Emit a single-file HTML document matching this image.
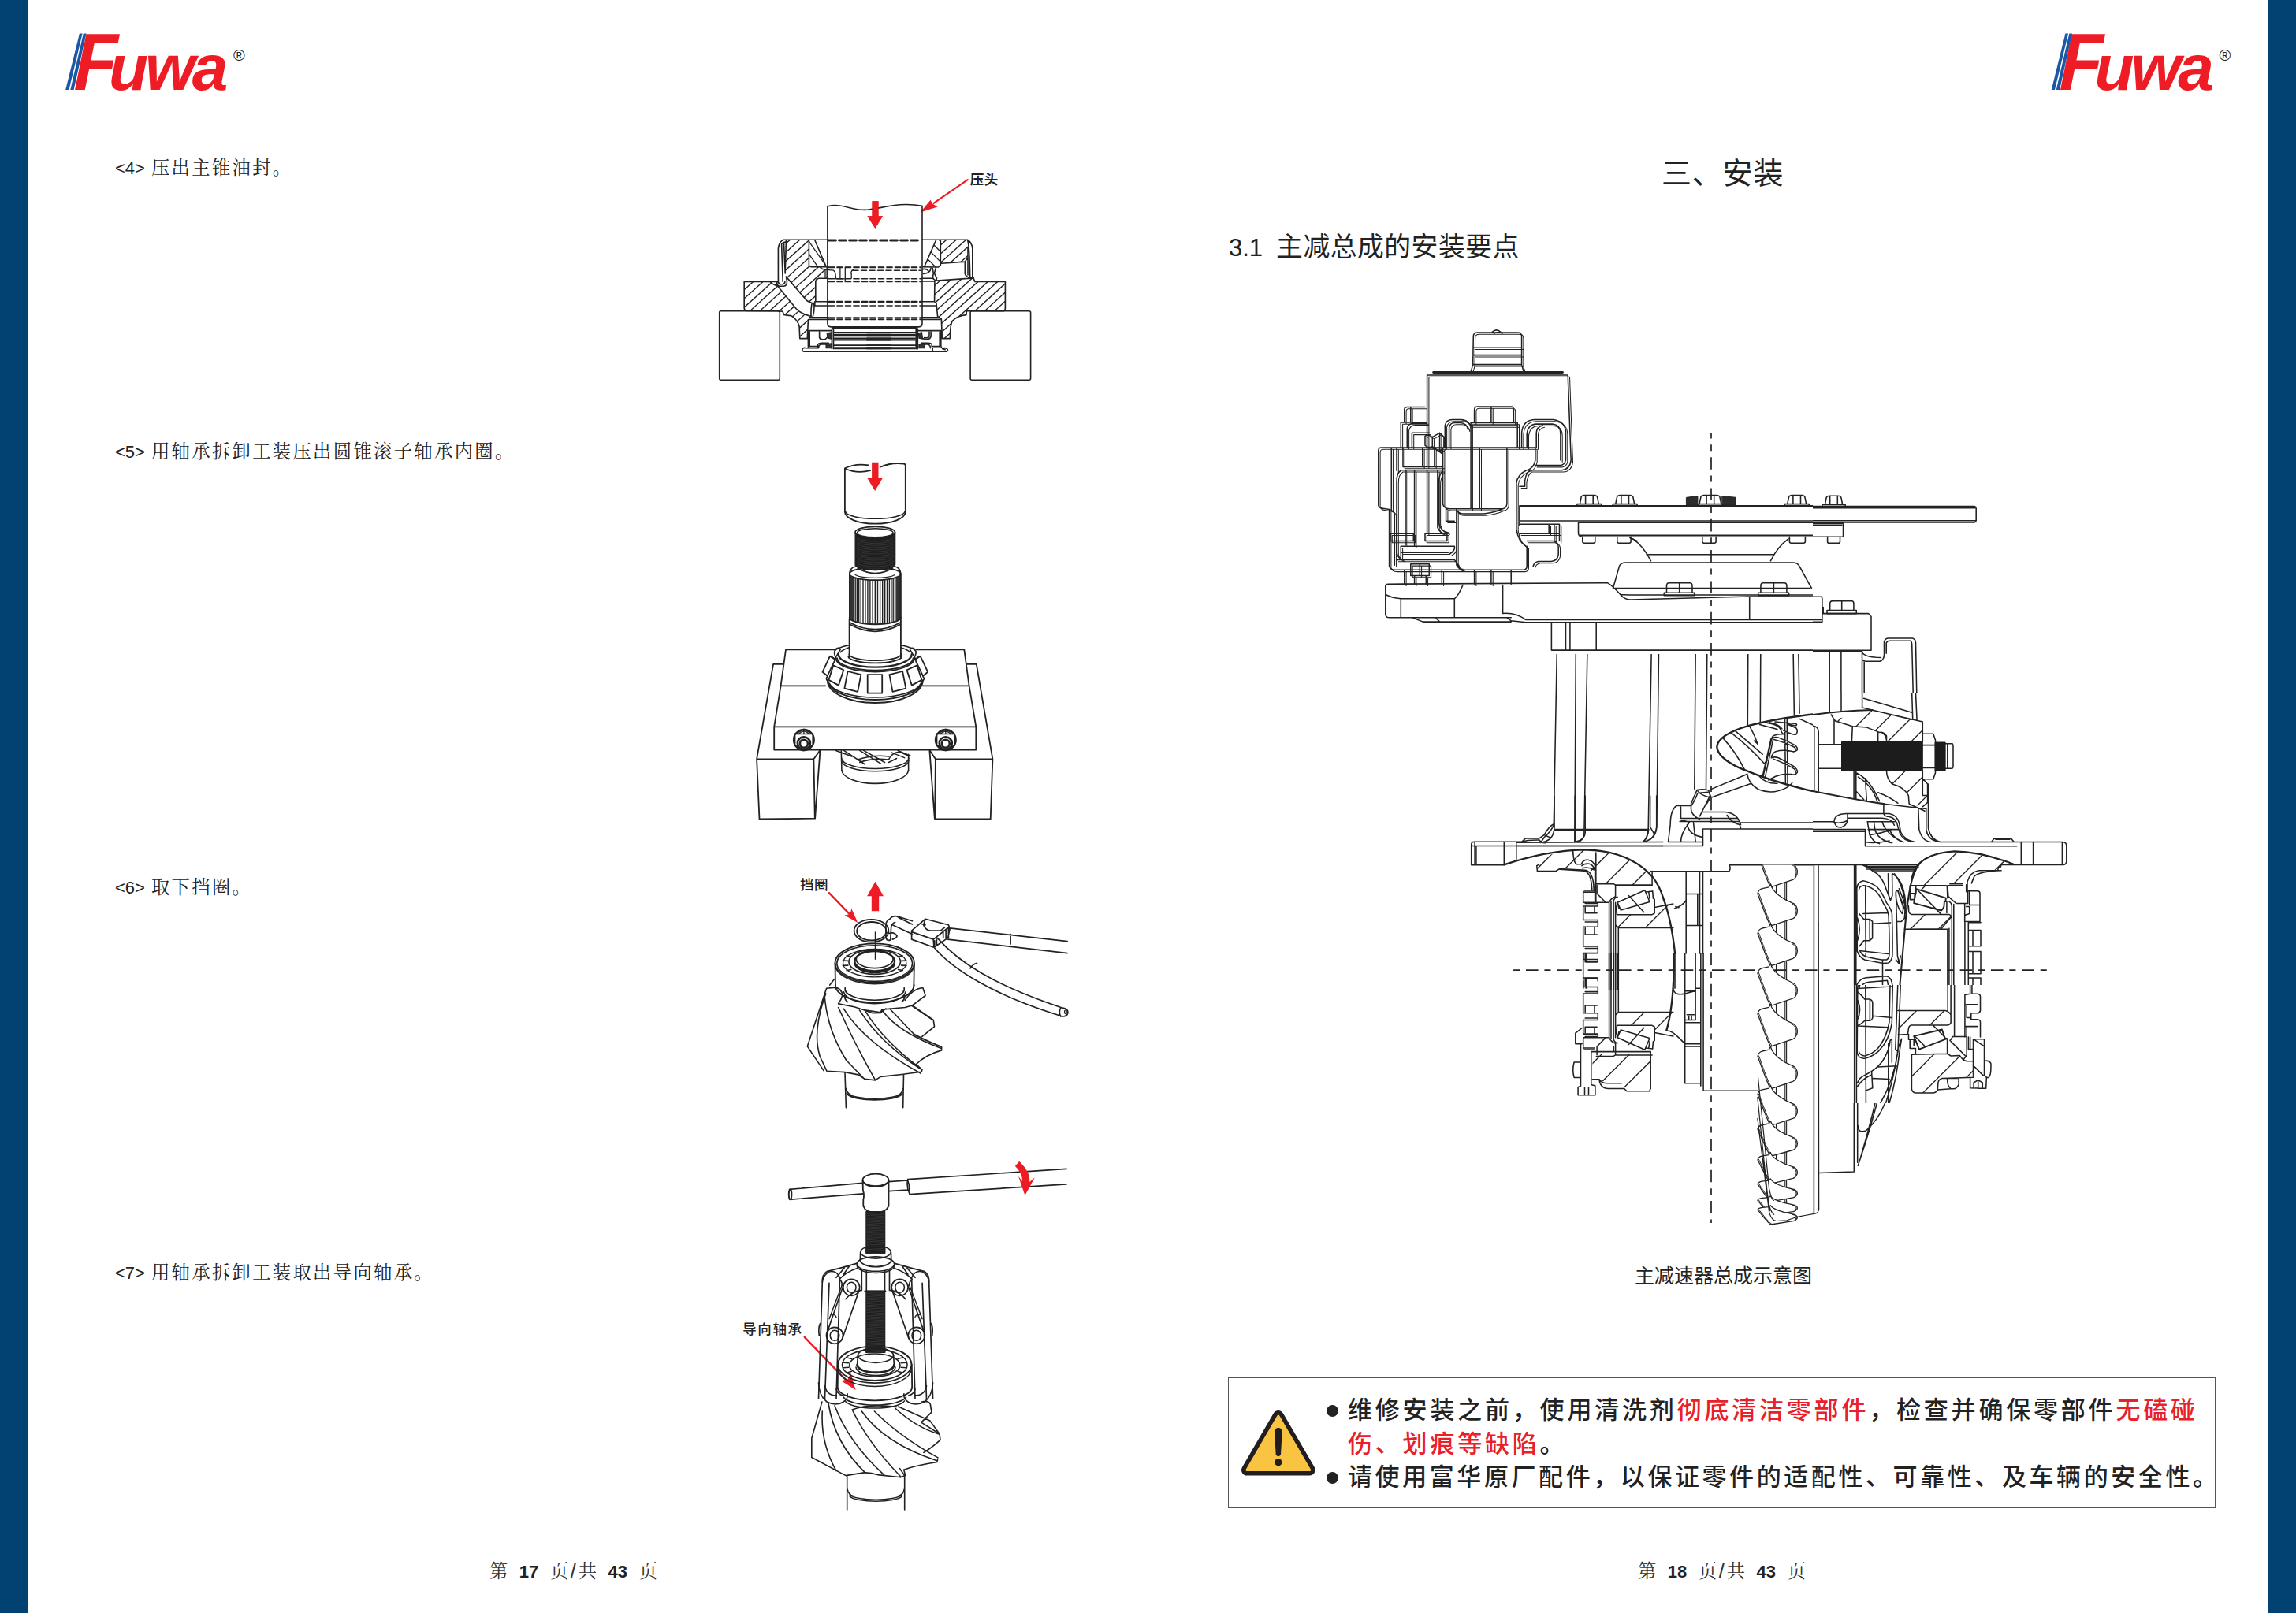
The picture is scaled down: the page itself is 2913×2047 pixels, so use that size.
<!DOCTYPE html>
<html lang="zh-CN">
<head>
<meta charset="utf-8">
<title>Fuwa 主减总成 维修手册 第17-18页</title>
<style>
html,body{margin:0;padding:0;background:#fff;}
body{width:2913px;height:2047px;position:relative;overflow:hidden;font-family:"Liberation Sans","Noto Sans CJK SC",sans-serif;color:#1a1a1a;}
.bar{position:absolute;top:0;width:35px;height:2047px;background:#014272;}
.t{position:absolute;white-space:nowrap;line-height:1;}
.step{font-family:"Liberation Sans","Noto Serif CJK SC",serif;font-size:23.3px;letter-spacing:2.35px;color:#222;}
.step b{font-family:"Liberation Sans",sans-serif;font-weight:400;font-size:22px;letter-spacing:0;color:#222;margin-right:8px;}
.logo{position:absolute;height:80px;width:240px;}
.logo .f{position:absolute;left:0;top:0;font:italic 700 100px/1 "Liberation Sans",sans-serif;color:#ee1c24;}
.foot{font-family:"Liberation Sans","Noto Serif CJK SC",serif;font-size:23.3px;letter-spacing:2.2px;color:#333;}
.foot b{font-family:"Liberation Sans",sans-serif;font-size:22px;font-weight:700;color:#222;letter-spacing:0;margin:0 14.6px 0 12.3px;}
.foot i{font-style:normal;font-size:27px;line-height:0;margin-right:.7px;position:relative;top:1px;}

.lf{left:9.8px;top:-3.2px;font:italic 700 103px/1 "Liberation Sans",sans-serif;color:#ee1c24;transform-origin:0 100%;transform:skewX(-2deg) scaleX(.86);}
.lu{left:55px;top:15px;font:italic 700 82px/1 "Liberation Sans",sans-serif;color:#ee1c24;letter-spacing:-4px;transform-origin:0 0;transform:scaleX(1.0);}
.lr{left:213px;top:30px;font:400 20px/1 "Liberation Sans",sans-serif;color:#222;}
.h1{letter-spacing:.8px;font:400 38px/1 "Liberation Sans","Noto Sans CJK SC",sans-serif;color:#222;}
.h2{letter-spacing:.5px;font:400 33.8px/1 "Liberation Sans","Noto Sans CJK SC",sans-serif;color:#222;}
.h2 b{font-weight:400;font-size:31px;margin-right:17px;letter-spacing:0}
.cap{font:400 25px/1 "Liberation Sans","Noto Sans CJK SC",sans-serif;color:#222;}
.warn{position:absolute;left:1558px;top:1748px;width:1251px;height:164px;border:1.5px solid #555;}
.warn p{position:absolute;left:151px;margin:0;white-space:nowrap;font:500 31px/1 "Liberation Sans","Noto Sans CJK SC",sans-serif;letter-spacing:3.8px;color:#222;}
.warn em{font-style:normal;color:#e8202a;}
.warn i{position:absolute;left:-27px;top:9px;width:15px;height:15px;border-radius:50%;background:#222;}
svg{position:absolute;left:0;top:0;}
svg text{font-family:"Liberation Sans","Noto Sans CJK SC",sans-serif;}
</style>
</head>
<body>
<div class="bar" style="left:0"></div>
<div class="bar" style="left:2878px"></div>
<div class="logo" style="left:83px;top:30px"><span class="t lf">F</span><span class="t lu">uwa</span><span class="t lr">®</span></div>
<div class="logo" style="left:2602.5px;top:30px"><span class="t lf">F</span><span class="t lu">uwa</span><span class="t lr">®</span></div>
<div class="t step" style="left:146px;top:201.9px"><b>&lt;4&gt;</b>压出主锥油封。</div>
<div class="t step" style="left:146px;top:561.9px"><b>&lt;5&gt;</b>用轴承拆卸工装压出圆锥滚子轴承内圈。</div>
<div class="t step" style="left:146px;top:1114.9px"><b>&lt;6&gt;</b>取下挡圈。</div>
<div class="t step" style="left:146px;top:1603.9px"><b>&lt;7&gt;</b>用轴承拆卸工装取出导向轴承。</div>
<div class="t foot" style="left:621px;top:1983px">第<b>17</b>页<i>/</i>共<b>43</b>页</div>
<div class="t foot" style="left:2078px;top:1983px">第<b>18</b>页<i>/</i>共<b>43</b>页</div>
<div class="t h1" style="left:2108px;top:201px">三、安装</div>
<div class="t h2" style="left:1559px;top:297px"><b>3.1</b>主减总成的安装要点</div>
<div class="t cap" style="left:2074px;top:1607px">主减速器总成示意图</div>
<div class="warn">
<p style="top:25px"><i></i>维修安装之前，使用清洗剂<em>彻底清洁零部件</em>，检查并确保零部件<em>无磕碰</em></p>
<p style="top:68px"><em>伤、划痕等缺陷</em>。</p>
<p style="top:110px;letter-spacing:3.58px"><i></i>请使用富华原厂配件，以保证零件的适配性、可靠性、及车辆的安全性。</p>
</div>

<svg width="2913" height="2047" viewBox="0 0 2913 2047" fill="none" stroke="#222" stroke-width="1.6" stroke-linecap="round" stroke-linejoin="round">
<g id="a_logo">
<g stroke="none" fill="#1c57a5">
<path d="M83.2 114 L100.9 42.6 L104.6 42.6 L87.5 114 Z"/>
<path d="M89.3 114 L105.8 42.6 L109.5 42.6 L93.6 114 Z"/>
<path d="M2602.7 114 L2620.4 42.6 L2624.1 42.6 L2607 114 Z"/>
<path d="M2608.8 114 L2625.3 42.6 L2629 42.6 L2613.1 114 Z"/>
</g>

</g>
<g id="b_warn">
<g stroke-linejoin="round">
<path d="M1621.85 1797 L1582 1865.6 L1661.7 1865.6 Z" fill="#221e1f" stroke="#221e1f" stroke-width="14"/>
<path d="M1621.85 1797 L1582 1865.6 L1661.7 1865.6 Z" fill="#fac443" stroke="#fac443" stroke-width="3"/>
<path d="M1617.8 1815.5 Q1621.85 1810 1625.9 1815.5 L1624.1 1846 Q1621.85 1848.5 1619.6 1846 Z" fill="#221e1f" stroke="#221e1f" stroke-width="1.8"/>
<circle cx="1621.85" cy="1855.8" r="4.7" fill="#221e1f" stroke="none"/>
</g>

</g>
<g id="d1">
<rect x="912.7" y="394.8" width="76.6" height="87.4" rx="2"/>
<rect x="1231.1" y="394.8" width="76.5" height="87.4" rx="2"/>
<path d="M 1106.5 255.2 L 1114.5 255.2 L 1114.5 274.2 L 1120.1 274.2 L 1110.3 289.8 L 1100.4 274.2 L 1106.5 274.2 Z" fill="#ed1c24" stroke="none"/>
<path d="M 1227.7 228.1 L 1184.6 257.8" stroke="#ed1c24" stroke-width="2.16"/>
<path d="M 1167.6 269.6 L 1180.6 253.7 L 1183.0 258.6 L 1189.6 262.6 Z" fill="#ed1c24" stroke="none"/>
<text x="1230.7" y="233.9" stroke="none" font-size="17.5" font-weight="700" fill="#222" letter-spacing="0.6">压头</text>
<clipPath id="c101"><path d="M 997.4 304.8 L 1026.4 304.8 L 1026.4 336.4 L 1028.5 338.5 L 1040.6 338.8 L 1043.3 341.6 L 1049.1 342.2 L 1049.1 352.2 L 1036.4 353.5 L 1034.8 356.4 L 1034.8 382.7 L 1029.1 384.3 Q 1023.8 382.7 1020.6 378.0 L 997.4 351.1 L 996.2 346.9 Z"/></clipPath>
<path clip-path="url(#c101)" d="M951.0 339.3 L1024.9 272.7 M956.5 345.5 L1030.5 278.9 M962.1 351.6 L1036.0 285.1 M967.6 357.8 L1041.6 291.2 M973.2 364.0 L1047.1 297.4 M978.8 370.1 L1052.7 303.6 M984.3 376.3 L1058.2 309.7 M989.9 382.5 L1063.8 315.9 M995.4 388.6 L1069.4 322.1 M1001.0 394.8 L1074.9 328.2 M1006.5 401.0 L1080.5 334.4 M1012.1 407.1 L1086.0 340.6" stroke-width="1.4"/>
<clipPath id="c102"><path d="M 944.2 357.4 L 976.9 357.4 L 980.1 360.4 L 986.4 362.7 L 1010.1 391.7 Q 1016.4 398.5 1029.1 401.5 L 1025.4 405.9 L 1024.3 429.6 L 1014.8 429.6 L 1014.1 414.3 Q 1012.2 405.9 1003.8 400.6 L 994.3 399.6 L 993.2 395.4 L 946.9 394.5 L 944.4 391.7 Z"/></clipPath>
<path clip-path="url(#c102)" d="M906.4 390.6 L992.2 313.4 M911.9 396.8 L997.7 319.5 M917.5 403.0 L1003.3 325.7 M923.0 409.1 L1008.8 331.9 M928.6 415.3 L1014.4 338.0 M934.2 421.5 L1020.0 344.2 M939.7 427.6 L1025.5 350.4 M945.3 433.8 L1031.1 356.6 M950.8 440.0 L1036.6 362.7 M956.4 446.1 L1042.2 368.9 M961.9 452.3 L1047.7 375.1 M967.5 458.5 L1053.3 381.2 M973.0 464.6 L1058.8 387.4 M978.6 470.8 L1064.4 393.6" stroke-width="1.4"/>
<clipPath id="c103"><path d="M 1026.4 304.8 L 1033.8 304.8 L 1047.5 336.9 L 1028.5 338.5 L 1026.4 336.4 Z"/></clipPath>
<path clip-path="url(#c103)" d="M1046.8 288.0 L1071.9 323.9 M1039.4 293.3 L1064.5 329.1 M1031.9 298.5 L1057.0 334.3 M1024.4 303.7 L1049.5 339.6 M1016.9 309.0 L1042.0 344.8 M1009.4 314.2 L1034.5 350.0" stroke-width="1.3"/>
<path d="M 1050.7 304.2 L 994.3 304.2 Q 988.5 305.8 987.4 315.3 L 987.4 357.4 M 991.6 309.5 L 993.2 357.4 M 994.5 307.9 L 996.2 346.9 M 991.6 309.5 Q 993.2 307.4 997.4 306.9 M 997.4 304.8 L 996.2 346.9 M 944.2 357.4 L 986.4 357.4 M 944.2 357.4 L 944.2 391.2 Q 944.8 394.3 947.4 394.5 L 988.5 394.8 M 985.8 357.4 Q 985.3 362.7 989.0 363.2 L 994.3 363.2 Q 998.5 362.7 998.5 357.4 L 997.4 351.1 M 987.4 357.4 Q 987.7 360.8 990.6 360.8 L 993.2 360.6 Q 995.9 360.1 995.9 357.4 M 976.9 357.4 Q 979.5 360.6 986.4 362.7 L 1010.1 391.7 Q 1016.4 398.5 1029.1 401.5 M 997.4 351.1 L 1020.6 378.0 Q 1023.8 382.7 1029.6 384.3 M 1026.4 304.8 L 1026.4 336.4 Q 1026.9 338.5 1029.6 338.7 L 1049.1 338.7 M 1033.8 304.8 L 1047.5 336.9 M 1040.6 338.8 Q 1041.7 341.6 1044.9 341.8 L 1050.7 342.2 M 1050.7 353.2 L 1038.5 353.2 Q 1035.4 353.8 1034.8 357.4 L 1034.8 382.7 M 1033.8 382.7 L 1050.7 382.7 M 1033.8 388.0 L 1050.7 388.0 M 1029.6 384.5 L 1033.8 384.5 M 1033.8 382.7 L 1033.8 388.0 M 1030.1 384.8 Q 1028.5 393.3 1029.1 401.5 M 1032.7 384.8 Q 1033.8 393.3 1031.2 401.9 M 1026.9 402.8 L 1050.7 402.8 M 1026.1 405.4 L 1050.7 405.4 M 1025.4 405.9 L 1024.3 429.6 L 1014.8 429.6 L 1014.1 414.3 Q 1012.2 405.9 1003.8 400.6 Q 997.4 400.1 994.5 399.4 L 993.2 395.4 L 988.5 394.8 M 1025.4 419.6 L 1025.4 441.7 L 1037.5 441.7 M 1026.9 419.6 L 1055.4 419.6 M 1027.2 421.2 L 1027.2 439.6 L 1037.0 439.6 M 1039.6 421.2 L 1039.6 428.0 Q 1040.1 430.7 1043.3 430.7 L 1047.0 430.7 Q 1049.1 429.1 1051.2 425.9 M 1037.5 441.7 L 1037.5 437.5 Q 1038.5 435.4 1041.7 435.2 L 1051.2 435.2 M 1038.5 441.7 L 1039.1 438.6 Q 1040.1 437.0 1042.8 437.0 L 1051.2 437.0 M 1055.4 418.0 L 1055.4 442.8 M 1057.5 418.0 L 1057.5 442.8 M 1018.0 442.8 Q 1019.6 440.7 1022.7 441.7 L 1025.4 441.7 M 1020.6 446.2 L 1130.0 446.2 M 1018.0 442.8 Q 1017.5 446.0 1020.6 446.2" stroke-width="1.62"/>
<path d="M 1049.1 339.5 L 1049.1 353.2 M 1047.0 342.7 L 1047.0 352.2" stroke-width="1.3"/>
<path d="M 1049.1 422.8 L 1054.9 421.7 L 1054.9 430.1 L 1050.1 429.1 Z M 1048.0 436.5 L 1054.9 435.9 L 1054.9 441.7 L 1048.0 441.7 Z" fill="#333" stroke-width="1.08"/>
<path d="M 1056.4 416.4 L 1130.0 416.4" stroke-width="2.81"/>
<path d="M 1058.0 421.9 L 1130.0 421.9 M 1058.0 431.7 L 1130.0 431.7 M 1058.0 438.1 L 1130.0 438.1" stroke-width="1.73"/>
<path d="M 1059.1 425.4 L 1130.0 425.4" stroke-width="3.46"/>
<path d="M 1059.1 429.6 L 1130.0 429.6" stroke-width="2.38"/>
<path d="M 1059.1 441.7 L 1130.0 441.7" stroke-width="3.02"/>
<path d="M 1051.2 342.7 L 1057.5 343.2 Q 1060.1 344.8 1060.1 349.0 L 1060.7 353.8 L 1072.3 353.8 M 1065.9 339.5 L 1065.9 353.2 M 1072.3 339.5 L 1072.3 357.4 M 1079.6 346.9 Q 1080.2 342.7 1082.8 342.5 M 1080.2 346.9 L 1080.2 353.2" stroke-width="1.3"/>
<clipPath id="c201"><path d="M 1193.8 304.8 L 1227.0 304.8 L 1228.0 314.2 L 1228.0 326.9 L 1224.3 332.1 L 1194.8 334.3 L 1193.3 331.1 Z"/></clipPath>
<path clip-path="url(#c201)" d="M1174.7 316.6 L1211.5 283.4 M1180.2 322.8 L1217.0 289.6 M1185.8 328.9 L1222.6 295.8 M1191.3 335.1 L1228.1 302.0 M1196.9 341.3 L1233.7 308.1 M1202.4 347.4 L1239.2 314.3" stroke-width="1.4"/>
<clipPath id="c202"><path d="M 1185.9 357.4 L 1188.5 356.1 L 1235.4 352.9 L 1237.0 357.4 L 1275.4 357.4 L 1275.4 394.3 L 1230.7 394.8 L 1226.4 395.4 L 1225.9 399.6 Q 1215.9 400.1 1208.5 407.0 Q 1205.4 411.2 1205.4 429.6 L 1195.9 429.6 L 1194.3 404.9 L 1189.6 401.7 L 1188.0 384.8 L 1185.6 382.7 Z"/></clipPath>
<path clip-path="url(#c202)" d="M1139.7 381.6 L1230.4 299.9 M1145.2 387.8 L1236.0 306.1 M1150.8 393.9 L1241.5 312.2 M1156.3 400.1 L1247.1 318.4 M1161.9 406.3 L1252.6 324.6 M1167.4 412.5 L1258.2 330.8 M1173.0 418.6 L1263.7 336.9 M1178.5 424.8 L1269.3 343.1 M1184.1 431.0 L1274.8 349.3 M1189.7 437.1 L1280.4 355.4 M1195.2 443.3 L1285.9 361.6 M1200.8 449.5 L1291.5 367.8 M1206.3 455.6 L1297.1 373.9 M1211.9 461.8 L1302.6 380.1 M1217.4 468.0 L1308.2 386.3 M1223.0 474.1 L1313.7 392.4" stroke-width="1.4"/>
<clipPath id="c203"><path d="M 1187.5 304.8 L 1193.3 304.8 L 1193.3 336.4 L 1190.6 339.0 L 1172.7 338.5 Z"/></clipPath>
<path clip-path="url(#c203)" d="M1186.8 287.0 L1217.9 318.1 M1180.4 293.5 L1211.4 324.5 M1173.9 299.9 L1205.0 331.0 M1167.5 306.4 L1198.5 337.4 M1161.0 312.8 L1192.1 343.9 M1154.6 319.3 L1185.6 350.3" stroke-width="1.3"/>
<path d="M 1169.5 304.2 L 1227.5 304.2 Q 1233.3 307.9 1233.8 315.3 L 1233.8 352.2 Q 1235.4 353.2 1237.0 357.4 L 1275.4 357.4 L 1275.4 391.2 Q 1275.1 394.5 1272.8 394.8 L 1226.4 394.8 L 1225.9 399.6 Q 1215.9 400.1 1208.5 407.0 Q 1205.4 411.2 1205.4 429.6 L 1195.4 429.6 M 1227.5 304.8 Q 1230.1 311.1 1230.7 351.1 Q 1232.2 353.2 1233.8 352.2 M 1228.0 314.2 L 1228.0 326.9 L 1224.3 332.1 L 1194.8 334.3 L 1193.3 331.1 L 1193.3 304.8 M 1187.5 304.8 L 1172.7 338.5 M 1193.3 331.1 L 1193.3 336.4 L 1190.6 339.0 L 1170.6 338.7 M 1224.3 332.1 L 1224.3 347.4 Q 1225.4 351.1 1231.7 353.2 M 1228.0 326.9 L 1228.0 349.0 M 1188.5 356.1 L 1235.4 352.9 M 1185.9 357.4 L 1185.6 382.7 L 1188.0 384.8 L 1189.6 401.7 L 1194.3 404.9 L 1195.4 429.6 M 1169.5 382.7 L 1185.6 382.7 M 1169.5 388.0 L 1188.3 388.0 M 1169.5 402.8 L 1191.7 402.8 L 1194.3 404.9 M 1169.5 405.4 L 1192.7 405.4 M 1170.6 341.6 Q 1176.9 340.6 1178.0 344.8 M 1171.7 347.4 Q 1180.1 346.9 1181.1 340.1 M 1183.2 340.6 L 1184.3 346.9 L 1183.2 353.2 L 1187.5 356.4 L 1188.5 353.2 L 1185.4 346.9 L 1187.5 339.5 M 1169.5 353.2 L 1184.3 353.2 M 1169.5 356.9 L 1185.9 356.9 M 1164.3 419.6 L 1193.8 419.6 M 1193.8 419.6 L 1193.8 439.6 Q 1194.8 442.8 1199.1 443.8 M 1192.2 421.2 L 1192.2 439.6 L 1182.2 439.6 L 1182.2 437.0 Q 1181.1 435.2 1178.0 435.2 L 1168.5 435.2 M 1181.1 421.2 L 1181.1 427.0 Q 1180.1 430.7 1175.9 430.7 L 1172.7 430.7 Q 1169.5 429.1 1167.4 425.9 M 1179.0 421.2 L 1179.0 426.5 Q 1178.5 428.9 1175.3 428.9 L 1172.7 428.6 M 1164.3 418.0 L 1164.3 442.8 M 1162.2 418.0 L 1162.2 442.8 M 1183.2 441.7 L 1183.2 444.9 Q 1184.3 446.2 1187.5 446.2 M 1100.0 446.2 L 1201.2 446.2 Q 1203.8 444.9 1201.2 442.3 Q 1198.0 440.7 1195.9 442.8 M 1168.5 437.0 L 1177.4 437.0 Q 1180.1 437.5 1180.6 441.7" stroke-width="1.62"/>
<path d="M 1165.3 422.8 L 1169.5 421.7 L 1170.6 430.1 L 1165.9 429.1 Z M 1165.9 436.5 L 1172.7 437.0 L 1172.7 441.7 L 1165.9 441.7 Z" fill="#333" stroke-width="1.08"/>
<path d="M 1100.0 416.4 L 1163.2 416.4" stroke-width="2.81"/>
<path d="M 1100.0 421.9 L 1161.6 421.9 M 1100.0 431.7 L 1161.6 431.7 M 1100.0 438.1 L 1161.6 438.1" stroke-width="1.73"/>
<path d="M 1100.0 425.4 L 1160.6 425.4" stroke-width="3.46"/>
<path d="M 1100.0 429.6 L 1160.6 429.6" stroke-width="2.38"/>
<path d="M 1100.0 441.7 L 1160.6 441.7" stroke-width="3.02"/>
<path d="M 1051.5 305.0 L 1168.5 305.0" stroke-width="2.81" stroke-dasharray="9 4"/>
<path d="M 1051.5 337.9 L 1168.5 337.9" stroke-width="1.62" stroke-dasharray="7 3.5"/>
<path d="M 1051.5 339.5 L 1168.5 339.5" stroke-width="1.62" stroke-dasharray="7 3.5"/>
<path d="M 1051.5 353.8 L 1168.5 353.8" stroke-width="1.62" stroke-dasharray="7 3.5"/>
<path d="M 1051.5 357.4 L 1168.5 357.4" stroke-width="1.62" stroke-dasharray="7 3.5"/>
<path d="M 1051.5 382.9 L 1168.5 382.9" stroke-width="2.16" stroke-dasharray="7 3.5"/>
<path d="M 1051.5 388.0 L 1168.5 388.0" stroke-width="1.62" stroke-dasharray="7 3.5"/>
<path d="M 1051.5 403.3 L 1168.5 403.3" stroke-width="2.16" stroke-dasharray="7 3.5"/>
<path d="M 1051.5 405.4 L 1168.5 405.4" stroke-width="1.62" stroke-dasharray="7 3.5"/>
<path d="M 1082.0 343.2 L 1168.5 343.2" stroke-width="1.51" stroke-dasharray="7 3.5"/>
<path d="M 1049.9 410.5 L 1049.9 261.8 C 1070.4 257.2 1080.4 268.2 1100.4 266.2 C 1120.5 264.2 1140.5 255.8 1170.0 261.4 L 1170.0 410.5 Q 1170.0 414.9 1165.6 414.9 L 1054.3 414.9 Q 1049.9 414.9 1049.9 410.5 Z"/>
<path d="M 1106.5 255.2 L 1114.5 255.2 L 1114.5 274.2 L 1120.1 274.2 L 1110.3 289.8 L 1100.4 274.2 L 1106.5 274.2 Z" fill="#ed1c24" stroke="none"/>
</g>
<g id="d2">
<path d="M1148.8 649.6 A38.4 15.1 0 0 1 1071.9 649.6" stroke-width="1.8"/>
<path d="M1148.1 649.1 A37.8 9.7 0 0 1 1072.6 649.1" stroke-width="1.56"/>
<path d="M 1071.9 594.3 L 1071.9 649.6 M 1148.8 649.6 L 1148.8 591.0 M 1071.9 594.3 Q 1085.7 587.6 1102.1 590.5 M 1071.9 594.7 Q 1087.3 601.5 1104.1 597.2 M 1116.6 592.8 Q 1130.9 586.4 1146.8 588.5 Q 1148.8 588.8 1148.8 591.3" stroke-width="1.8"/>
<path d="M 1106.1 586.8 L 1114.5 586.8 L 1114.5 606.0 L 1120.3 606.0 L 1110.1 622.9 L 1099.9 606.0 L 1106.1 606.0 Z" fill="#ed1c24" stroke="none"/>
<ellipse cx="1110.3" cy="675.5" rx="25.3" ry="7.2" stroke-width="1.8"/>
<ellipse cx="1110.3" cy="676.2" rx="22.8" ry="5.5" stroke-width="1.44"/>
<path d="M 1085.2 676.7 L 1087.3 678.8 L 1089.4 679.9 L 1091.5 680.7 L 1093.5 681.2 L 1095.7 681.7 L 1097.7 682.0 L 1099.9 682.4 L 1101.9 682.7 L 1104.1 682.9 L 1106.1 682.9 L 1108.3 683.0 L 1110.4 683.0 L 1112.5 683.0 L 1114.6 682.9 L 1116.6 682.9 L 1118.8 682.7 L 1120.8 682.4 L 1123.0 682.0 L 1125.0 681.7 L 1127.2 681.2 L 1129.2 680.5 L 1131.4 679.9 L 1133.4 678.7 L 1135.6 675.8 L 1135.6 716.5 L 1133.4 719.4 L 1131.4 720.4 L 1129.2 721.2 L 1127.2 721.7 L 1125.0 722.2 L 1123.0 722.5 L 1120.8 722.9 L 1118.8 723.2 L 1116.6 723.4 L 1114.6 723.4 L 1112.5 723.5 L 1110.4 723.5 L 1108.3 723.5 L 1106.1 723.4 L 1104.1 723.4 L 1101.9 723.2 L 1099.9 722.9 L 1097.7 722.5 L 1095.7 722.2 L 1093.5 721.9 L 1091.5 721.2 L 1089.4 720.5 L 1087.3 719.4 L 1085.2 717.3 Z" fill="#1f1f1f" stroke="#1f1f1f" stroke-width="1.44"/>
<path d="M 1087.3 682.9 L 1091.2 684.5 L 1095.0 685.4 L 1098.9 686.0 L 1102.7 686.5 L 1106.6 686.9 L 1110.4 686.9 L 1114.1 686.7 L 1118.0 686.5 L 1121.8 686.0 L 1125.7 685.4 L 1129.5 684.4 L 1133.4 682.7 M 1087.3 685.5 L 1091.2 687.2 L 1095.0 688.1 L 1098.9 688.7 L 1102.7 689.2 L 1106.6 689.6 L 1110.4 689.6 L 1114.1 689.4 L 1118.0 689.2 L 1121.8 688.7 L 1125.7 688.1 L 1129.5 687.1 L 1133.4 685.4 M 1087.3 688.2 L 1091.2 689.9 L 1095.0 690.7 L 1098.9 691.4 L 1102.7 691.9 L 1106.6 692.2 L 1110.4 692.2 L 1114.1 692.1 L 1118.0 691.9 L 1121.8 691.4 L 1125.7 690.7 L 1129.5 689.7 L 1133.4 688.1 M 1087.3 690.9 L 1091.2 692.6 L 1095.0 693.4 L 1098.9 694.1 L 1102.7 694.6 L 1106.6 694.9 L 1110.4 694.9 L 1114.1 694.8 L 1118.0 694.6 L 1121.8 694.1 L 1125.7 693.4 L 1129.5 692.4 L 1133.4 690.7 M 1087.3 693.6 L 1091.2 695.3 L 1095.0 696.1 L 1098.9 696.8 L 1102.7 697.3 L 1106.6 697.6 L 1110.4 697.6 L 1114.1 697.4 L 1118.0 697.3 L 1121.8 696.8 L 1125.7 696.1 L 1129.5 695.1 L 1133.4 693.4 M 1087.3 696.3 L 1091.2 697.9 L 1095.0 698.8 L 1098.9 699.4 L 1102.7 699.9 L 1106.6 700.3 L 1110.4 700.3 L 1114.1 700.1 L 1118.0 699.9 L 1121.8 699.4 L 1125.7 698.8 L 1129.5 697.8 L 1133.4 696.1 M 1087.3 698.9 L 1091.2 700.6 L 1095.0 701.4 L 1098.9 702.1 L 1102.7 702.6 L 1106.6 703.0 L 1110.4 703.0 L 1114.1 702.8 L 1118.0 702.6 L 1121.8 702.1 L 1125.7 701.4 L 1129.5 700.4 L 1133.4 698.8 M 1087.3 701.6 L 1091.2 703.3 L 1095.0 704.1 L 1098.9 704.8 L 1102.7 705.3 L 1106.6 705.6 L 1110.4 705.6 L 1114.1 705.5 L 1118.0 705.3 L 1121.8 704.8 L 1125.7 704.1 L 1129.5 703.1 L 1133.4 701.4 M 1087.3 704.3 L 1091.2 706.0 L 1095.0 706.8 L 1098.9 707.5 L 1102.7 708.0 L 1106.6 708.3 L 1110.4 708.3 L 1114.1 708.1 L 1118.0 708.0 L 1121.8 707.5 L 1125.7 706.8 L 1129.5 705.8 L 1133.4 704.1 M 1087.3 707.0 L 1091.2 708.6 L 1095.0 709.5 L 1098.9 710.2 L 1102.7 710.7 L 1106.6 711.0 L 1110.4 711.0 L 1114.1 710.8 L 1118.0 710.7 L 1121.8 710.2 L 1125.7 709.5 L 1129.5 708.5 L 1133.4 706.8 M 1087.3 709.6 L 1091.2 711.3 L 1095.0 712.2 L 1098.9 712.8 L 1102.7 713.3 L 1106.6 713.7 L 1110.4 713.7 L 1114.1 713.5 L 1118.0 713.3 L 1121.8 712.8 L 1125.7 712.2 L 1129.5 711.2 L 1133.4 709.5 M 1087.3 712.3 L 1091.2 714.0 L 1095.0 714.8 L 1098.9 715.5 L 1102.7 716.0 L 1106.6 716.3 L 1110.4 716.3 L 1114.1 716.2 L 1118.0 716.0 L 1121.8 715.5 L 1125.7 714.8 L 1129.5 713.8 L 1133.4 712.2 M 1087.3 715.0 L 1091.2 716.7 L 1095.0 717.5 L 1098.9 718.2 L 1102.7 718.7 L 1106.6 719.0 L 1110.4 719.0 L 1114.1 718.9 L 1118.0 718.7 L 1121.8 718.2 L 1125.7 717.5 L 1129.5 716.5 L 1133.4 714.8 M 1087.3 717.7 L 1091.2 719.4 L 1095.0 720.2 L 1098.9 720.9 L 1102.7 721.4 L 1106.6 721.7 L 1110.4 721.7 L 1114.1 721.5 L 1118.0 721.4 L 1121.8 720.9 L 1125.7 720.2 L 1129.5 719.2 L 1133.4 717.5" stroke="#484848" stroke-width="0.5"/>
<path d="M 1085.2 719.0 Q 1078.1 720.7 1078.0 728.2 M 1135.6 719.0 Q 1142.3 720.7 1142.6 728.2 M 1088.2 721.0 Q 1110.3 734.1 1132.5 721.0" stroke-width="1.68"/>
<ellipse cx="1110.3" cy="728.2" rx="32.5" ry="7.9" stroke-width="1.8"/>
<path d="M1135.4 729.5 A26.8 6.0 0 0 1 1085.1 729.5" stroke-width="1.32"/>
<path d="M 1077.8 728.7 L 1077.8 783.5 M 1078.0 729.6 L 1078.0 784.3 M 1078.5 730.2 L 1078.5 785.1 M 1079.1 731.1 L 1079.1 786.0 M 1080.3 731.7 L 1080.3 786.8 M 1081.7 732.4 L 1081.7 787.7 M 1083.3 733.1 L 1083.3 788.3 M 1085.2 733.8 L 1085.2 789.0 M 1087.3 734.3 L 1087.3 789.7 M 1089.7 734.8 L 1089.7 790.2 M 1092.2 735.3 L 1092.2 790.7 M 1095.0 735.6 L 1095.0 791.2 M 1097.9 735.9 L 1097.9 791.5 M 1100.9 736.3 L 1100.9 791.8 M 1103.9 736.4 L 1103.9 792.0 M 1107.1 736.6 L 1107.1 792.2 M 1110.3 736.6 L 1110.3 792.2 M 1113.5 736.6 L 1113.5 792.2 M 1116.6 736.4 L 1116.6 792.0 M 1119.7 736.3 L 1119.7 791.8 M 1122.7 735.9 L 1122.7 791.5 M 1125.5 735.6 L 1125.5 791.2 M 1128.4 735.3 L 1128.4 790.7 M 1130.9 734.8 L 1130.9 790.2 M 1133.2 734.3 L 1133.2 789.7 M 1135.4 733.8 L 1135.4 789.0 M 1137.2 733.1 L 1137.2 788.3 M 1138.9 732.4 L 1138.9 787.7 M 1140.2 731.7 L 1140.2 786.8 M 1141.4 731.1 L 1141.4 786.0 M 1142.1 730.2 L 1142.1 785.1 M 1142.6 729.6 L 1142.6 784.3 M 1142.8 728.7 L 1142.8 783.5" stroke-width="1.38"/>
<path d="M 1078.0 729.1 L 1078.0 784.3 L 1083.2 788.0 L 1083.2 733.3 Z" fill="#333" stroke="none"/>
<path d="M 1142.6 729.1 L 1142.6 784.3 L 1137.6 788.0 L 1137.6 733.3 Z" fill="#333" stroke="none"/>
<path d="M 1078.0 728.2 L 1078.0 785.1 M 1142.6 728.2 L 1142.6 785.1" stroke-width="1.92"/>
<path d="M1142.8 783.5 A32.5 8.7 0 0 1 1077.8 783.5" stroke-width="1.92"/>
<path d="M 1077.6 785.1 L 1077.6 831.2 M 1142.9 785.1 L 1142.9 831.2 M 1077.6 789.7 Q 1110.3 807.7 1142.9 789.7 M 1078.0 792.3 Q 1110.3 810.4 1142.6 792.3" stroke-width="1.8"/>
<path d="M 997.0 824.4 L 1059.7 824.4 M 1162.7 824.4 L 1223.3 824.4 M 997.0 824.4 L 990.6 870.4 L 982.2 922.3 L 982.2 951.6 L 1238.3 951.6 L 1238.3 922.3 L 1229.6 870.4 L 1223.3 824.4 M 990.6 870.4 L 1047.2 870.4 M 1171.0 870.4 L 1229.6 870.4 M 982.2 922.3 L 1238.3 922.3 M 993.3 842.8 L 981.1 842.8 L 960.1 963.3 L 963.5 1039.5 L 1033.8 1038.6 L 1032.4 963.3 L 960.1 963.3 M 1032.4 963.3 L 1040.5 952.1 M 1040.5 952.4 L 1034.1 1038.6 M 1227.1 842.8 L 1238.8 842.8 L 1259.4 963.3 L 1256.7 1039.5 L 1186.1 1039.5 L 1186.9 963.3 L 1259.4 963.3 M 1186.9 963.3 L 1179.4 952.1 M 1179.4 952.4 L 1185.8 1038.6" stroke-width="1.8"/>
<path d="M 1077.6 830.2 L 1077.6 835.2 M 1142.9 830.2 L 1142.9 835.2" stroke-width="1.8"/>
<path d="M 1058.9 826.0 Q 1062.2 821.8 1077.3 818.8 M 1161.8 826.0 Q 1158.5 821.8 1142.9 818.8 M 1066.4 827.7 Q 1068.9 824.4 1077.3 821.8 M 1154.3 827.7 Q 1151.8 824.4 1142.9 821.8 M 1059.7 825.2 Q 1057.2 828.5 1060.6 835.2 M 1161.3 825.2 Q 1163.5 828.5 1159.7 835.2 M 1049.7 858.7 Q 1047.2 861.2 1049.7 863.7 M 1171.0 858.7 Q 1173.6 861.2 1171.0 863.7" stroke-width="1.68"/>
<path d="M1156.8 830.2 A46.5 16.4 0 0 1 1063.7 830.2" stroke-width="2.4"/>
<path d="M1143.1 830.2 A32.8 8.0 0 0 1 1077.5 830.2" stroke-width="1.68"/>
<path d="M1144.4 832.7 A34.1 8.7 0 0 1 1076.1 832.7" stroke-width="1.68"/>
<path d="M1158.5 835.2 A48.2 15.4 0 0 1 1062.1 835.2" stroke-width="1.68"/>
<path d="M1160.0 835.2 A49.7 17.4 0 0 1 1060.6 835.2" stroke-width="1.68"/>
<path d="M1170.9 863.2 A60.6 28.8 0 0 1 1049.7 863.2" stroke-width="1.8"/>
<path d="M1169.8 865.0 A59.6 24.4 0 0 1 1050.8 865.0" stroke-width="1.8"/>
<path d="M1168.3 867.4 A58.6 20.4 0 0 1 1052.3 867.4" stroke-width="1.56"/>
<path d="M 1100.7 856.2 L 1119.2 856.2 L 1119.2 879.6 L 1100.7 879.6 Z" stroke-linejoin="round" stroke-width="1.8"/>
<path d="M 1075.6 852.0 L 1092.4 856.2 L 1088.2 877.9 L 1071.4 873.7 Z" stroke-linejoin="round" stroke-width="1.8"/>
<path d="M 1128.4 856.2 L 1145.1 852.0 L 1149.3 873.7 L 1132.5 877.9 Z" stroke-linejoin="round" stroke-width="1.8"/>
<path d="M 1057.2 844.4 L 1070.3 850.3 L 1063.9 869.6 L 1051.4 862.9 Z" stroke-linejoin="round" stroke-width="1.8"/>
<path d="M 1163.5 844.4 L 1150.5 850.3 L 1156.8 869.6 L 1169.4 862.9 Z" stroke-linejoin="round" stroke-width="1.8"/>
<path d="M 1053.0 832.7 L 1059.7 836.9 L 1049.7 857.8 L 1043.5 852.8 Z" stroke-linejoin="round" stroke-width="1.8"/>
<path d="M 1167.7 832.7 L 1161.0 836.9 L 1171.0 857.8 L 1177.2 852.8 Z" stroke-linejoin="round" stroke-width="1.8"/>
<path d="M 1060.6 823.5 Q 1063.9 821.0 1066.4 823.9 L 1059.7 835.2 M 1160.2 823.5 Q 1156.8 821.0 1154.3 823.9 L 1161.0 835.2 M 1054.7 832.7 Q 1057.2 835.2 1060.2 836.6 M 1166.0 832.7 Q 1163.5 835.2 1160.5 836.6" stroke-width="1.56"/>
<path d="M 1019.9 925.6 L 1031.3 931.5 L 1031.3 945.7 L 1019.9 952.4 L 1008.5 945.7 L 1008.5 931.5 Z" stroke-width="1.8"/>
<path d="M 1019.9 925.6 L 1019.9 931.5 M 1008.5 931.5 L 1031.3 931.5 M 1012.4 931.5 L 1019.9 927.3 L 1027.4 931.5" stroke-width="1.32"/>
<ellipse cx="1019.9" cy="939.0" rx="13.1" ry="13.4" stroke-width="1.8"/>
<ellipse cx="1019.9" cy="943.2" rx="8.0" ry="8.0" stroke-width="2.64"/>
<ellipse cx="1019.9" cy="943.7" rx="5.0" ry="5.0" stroke-width="2.64"/>
<path d="M 1199.8 925.6 L 1211.2 931.5 L 1211.2 945.7 L 1199.8 952.4 L 1188.5 945.7 L 1188.5 931.5 Z" stroke-width="1.8"/>
<path d="M 1199.8 925.6 L 1199.8 931.5 M 1188.5 931.5 L 1211.2 931.5 M 1192.3 931.5 L 1199.8 927.3 L 1207.4 931.5" stroke-width="1.32"/>
<ellipse cx="1199.8" cy="939.0" rx="13.1" ry="13.4" stroke-width="1.8"/>
<ellipse cx="1199.8" cy="943.2" rx="8.0" ry="8.0" stroke-width="2.64"/>
<ellipse cx="1199.8" cy="943.7" rx="5.0" ry="5.0" stroke-width="2.64"/>
<path d="M1152.6 977.5 A42.4 17.7 0 0 1 1067.9 977.5" stroke-width="1.68"/>
<path d="M 1067.3 952.4 L 1067.9 977.5 M 1152.6 977.5 L 1152.6 957.4 M 1070.6 952.4 L 1097.4 970.0 M 1090.7 952.4 L 1117.5 969.2 M 1095.7 952.4 L 1122.5 967.5 M 1060.6 952.4 L 1080.7 959.9 M 1127.5 964.1 Q 1130.9 955.8 1140.9 954.1 L 1154.3 959.9 M 1130.9 954.9 L 1147.6 961.6 M 1088.2 964.1 Q 1107.4 957.4 1127.5 959.9 M 1090.7 967.5 Q 1107.4 961.6 1126.7 964.1 M 1137.6 962.5 L 1127.5 967.5 M 1139.2 952.4 L 1155.1 959.1" stroke-width="1.56"/>
<path d="M1153.0 962.1 A42.7 13.4 0 0 1 1067.6 962.1" stroke-width="1.56"/>
<path d="M1153.0 965.0 A42.7 13.7 0 0 1 1067.6 965.0" stroke-width="1.56"/>
</g>
<g id="d3">
<text x="1015.1" y="1129.0" stroke="none" font-size="17.5" font-weight="500" fill="#222" letter-spacing="0.5">挡圈</text>
<path d="M 1051.9 1133.2 L 1081.2 1163.7" stroke="#ed1c24" stroke-width="2.4"/>
<path d="M 1088.3 1171.0 L 1071.5 1161.6 L 1078.4 1160.3 L 1080.4 1153.3 Z" fill="#ed1c24" stroke="none"/>
<path d="M 1110.5 1118.8 L 1120.9 1137.2 L 1115.2 1137.2 L 1115.2 1156.3 L 1105.8 1156.3 L 1105.8 1137.2 L 1100.1 1137.2 Z" fill="#ed1c24" stroke="none"/>
<ellipse cx="1105.5" cy="1181.2" rx="21.9" ry="14.4" stroke-width="1.8"/>
<ellipse cx="1105.8" cy="1181.7" rx="18.7" ry="11.7" stroke-width="1.8"/>
<path d="M 1110.5 1182.9 L 1110.5 1217.2" stroke-width="1.44"/>
<path d="M 1123.9 1173.7 Q 1123.9 1168.7 1128.9 1166.2 Q 1132.3 1162.0 1138.1 1162.8 L 1157.4 1168.7 M 1123.9 1173.7 L 1123.9 1190.4 Q 1125.6 1194.6 1129.8 1192.9 L 1130.6 1177.0 Q 1131.4 1172.0 1135.6 1170.3 M 1138.1 1162.8 L 1141.5 1165.3 L 1157.4 1172.9 M 1132.3 1173.7 L 1157.4 1185.4 M 1130.6 1183.7 Q 1135.6 1183.7 1138.1 1187.9 Q 1137.3 1190.4 1132.3 1192.1 M 1123.9 1183.7 L 1130.6 1184.6 M 1156.6 1181.2 L 1174.1 1166.2 L 1203.4 1173.7 L 1205.1 1178.7 L 1202.6 1190.4 L 1185.0 1202.2 L 1156.6 1192.1 Z M 1157.4 1182.9 L 1184.2 1192.1 L 1185.0 1202.2 M 1184.2 1192.1 L 1203.4 1177.0 M 1174.1 1166.2 L 1171.6 1173.7 Q 1174.1 1180.4 1180.8 1181.2 L 1193.4 1181.2 L 1198.4 1177.0 M 1167.4 1172.0 L 1174.1 1173.7 M 1196.7 1181.2 L 1196.7 1190.4 M 1200.1 1179.6 L 1200.1 1190.4 M 1203.4 1177.0 L 1203.4 1190.4 M 1185.8 1193.8 L 1185.8 1201.3 M 1188.4 1192.1 L 1188.4 1199.6 M 1205.1 1177.9 L 1354.1 1194.6 M 1202.6 1192.1 L 1354.1 1209.7 M 1282.1 1185.7 L 1282.1 1198.0 M 1189.2 1190.4 C 1216.0 1220.6 1257.8 1249.0 1348.2 1279.2 M 1185.0 1202.2 C 1207.6 1228.9 1257.8 1262.4 1348.2 1290.0 M 1231.0 1228.9 Q 1233.6 1223.9 1239.4 1222.2 M 1348.2 1279.2 Q 1354.9 1280.0 1354.9 1285.0 Q 1354.1 1290.0 1348.2 1290.0 M 1345.7 1279.2 Q 1342.9 1284.2 1345.7 1290.0" stroke-width="1.68"/>
<ellipse cx="1351.9" cy="1284.2" rx="1.3" ry="2.3" stroke-width="1.32"/>
<ellipse cx="1109.7" cy="1222.2" rx="50.2" ry="24.8" stroke-width="1.8"/>
<ellipse cx="1109.7" cy="1222.6" rx="47.9" ry="22.8" stroke-width="1.56"/>
<ellipse cx="1109.7" cy="1222.2" rx="40.2" ry="17.7" stroke-width="1.32"/>
<ellipse cx="1109.7" cy="1220.6" rx="32.8" ry="15.7" stroke-width="1.68"/>
<ellipse cx="1109.7" cy="1219.7" rx="25.4" ry="12.7" stroke-width="2.4"/>
<ellipse cx="1109.7" cy="1217.2" rx="23.4" ry="11.4" stroke-width="1.68"/>
<path d="M1134.4 1224.3 A25.1 11.7 0 0 1 1085.0 1224.3" stroke-width="2.64"/>
<path d="M 1079.9 1230.4 L 1074.2 1231.6 M 1075.9 1225.1 L 1069.3 1225.4 M 1075.9 1219.4 L 1069.3 1219.1 M 1079.9 1214.0 L 1074.2 1212.9 M 1139.5 1214.0 L 1145.2 1212.9 M 1143.5 1219.4 L 1150.0 1219.1 M 1143.5 1225.1 L 1150.0 1225.4 M 1139.5 1230.4 L 1145.2 1231.6" stroke-width="1.56"/>
<path d="M 1059.5 1222.2 L 1060.0 1250.7 M 1159.9 1222.2 L 1159.4 1250.7" stroke-width="1.8"/>
<path d="M1159.6 1249.9 A49.9 22.6 0 0 1 1059.8 1249.9" stroke-width="1.8"/>
<path d="M1159.7 1226.1 A50.2 24.8 0 0 1 1059.7 1226.1" stroke-width="1.44"/>
<path d="M1147.2 1253.6 A37.7 14.2 0 1 1 1072.2 1253.6" stroke-width="1.68"/>
<path d="M1148.9 1258.8 A39.3 15.9 0 0 1 1070.5 1258.8" stroke-width="1.68"/>
<path d="M 1072.0 1262.4 Q 1070.3 1267.4 1075.4 1271.6 M 1147.3 1262.4 Q 1149.0 1267.4 1144.0 1271.6 M 1098.0 1282.5 L 1107.2 1285.8 L 1117.2 1285.5 L 1119.7 1281.7" stroke-width="1.56"/>
<path d="M 1058.6 1242.6 L 1052.8 1250.1 M 1048.6 1254.3 L 1024.3 1327.9 L 1045.2 1358.9 M 1048.6 1254.3 L 1060.3 1253.1 Q 1068.7 1255.1 1068.7 1263.5 Q 1067.0 1269.3 1063.7 1273.5 M 1047.8 1261.0 Q 1030.2 1308.7 1040.2 1340.5 L 1048.9 1359.2 M 1046.1 1261.8 Q 1048.6 1305.3 1073.7 1345.5 L 1097.1 1369.8 M 1048.9 1359.2 L 1072.0 1360.6 L 1088.8 1363.9 L 1097.1 1369.3 L 1110.5 1370.9 L 1117.2 1366.4 Q 1140.7 1363.9 1169.1 1360.2 L 1169.9 1357.6 L 1162.4 1350.5 M 1063.7 1273.9 L 1083.7 1277.7 L 1097.1 1281.9 L 1117.2 1284.9 L 1118.9 1281.1 L 1148.2 1278.5 L 1157.4 1276.0 M 1063.7 1278.5 Q 1083.7 1323.7 1110.5 1370.6 M 1070.3 1280.2 Q 1097.1 1323.7 1168.3 1362.2 M 1090.4 1281.9 Q 1117.2 1323.7 1167.4 1356.4 M 1097.1 1282.2 Q 1120.6 1320.4 1164.1 1353.0 M 1120.6 1283.9 Q 1140.7 1310.3 1194.2 1330.4 M 1128.9 1280.2 L 1159.1 1312.0 Q 1174.1 1320.4 1193.4 1327.9 M 1148.2 1269.3 Q 1157.4 1255.1 1170.8 1253.4 L 1174.1 1263.5 L 1157.4 1276.0 M 1157.4 1276.0 L 1184.2 1294.4 L 1185.5 1302.8 L 1169.9 1315.4 M 1159.1 1312.9 Q 1174.1 1320.4 1194.6 1328.8 L 1194.6 1332.9 Q 1174.1 1338.8 1162.4 1350.5 M 1117.2 1285.2 L 1123.9 1280.2 M 1157.4 1276.9 L 1182.5 1293.9 M 1072.0 1361.4 L 1073.4 1405.8 M 1146.5 1363.9 L 1145.7 1405.8 M 1073.7 1381.5 Q 1074.5 1387.3 1080.4 1389.9 M 1145.7 1381.5 Q 1144.8 1387.3 1139.0 1389.9" stroke-width="1.62"/>
<path d="M1144.9 1387.3 A36.5 9.4 0 0 1 1074.4 1387.3" stroke-width="1.68"/>
<path d="M1144.3 1388.9 A35.8 9.4 0 0 1 1075.1 1388.9" stroke-width="1.68"/>
</g>
<g id="d4">
<text x="942.2" y="1693.2" stroke="none" font-size="17.5" font-weight="500" fill="#222" letter-spacing="1.6">导向轴承</text>
<path d="M 1020.7 1696.8 L 1077.2 1755.3" stroke="#ed1c24" stroke-width="2.4"/>
<path d="M 1085.6 1763.9 L 1067.1 1752.2 L 1075.6 1750.6 L 1079.2 1742.6 Z" fill="#ed1c24" stroke="none"/>
<path d="M 1001.6 1509.4 L 1094.3 1501.4 M 1003.6 1522.1 L 1095.3 1514.9 M 1127.5 1499.6 L 1151.7 1498.0 M 1127.5 1511.7 L 1151.7 1510.2 M 1151.7 1496.7 L 1353.2 1483.4 M 1154.1 1515.7 L 1353.2 1502.8 M 1151.7 1496.7 Q 1149.7 1506.4 1154.1 1515.7 M 1151.7 1498.0 Q 1154.1 1504.4 1153.7 1510.4" stroke-width="1.68"/>
<ellipse cx="1002.6" cy="1515.9" rx="1.8" ry="6.4" stroke-width="1.92"/>
<ellipse cx="1111.0" cy="1497.4" rx="16.5" ry="7.7" stroke-width="1.8"/>
<path d="M 1094.5 1497.4 L 1094.9 1510.4 Q 1096.9 1516.5 1095.3 1522.5 L 1095.3 1530.6 Q 1098.3 1538.7 1111.0 1539.1 Q 1123.9 1538.7 1127.5 1530.6 L 1127.5 1498.4" stroke-width="1.8"/>
<path d="M1126.2 1501.0 A16.1 7.7 0 0 1 1095.9 1501.0" stroke-width="1.32"/>
<path d="M 1293.2 1473.8 Q 1307.9 1488.3 1306.1 1500.0 L 1312.9 1494.3 L 1300.4 1516.9 L 1292.0 1492.7 L 1297.2 1499.2 Q 1297.2 1489.3 1287.9 1479.8 Z" fill="#ed1c24" stroke="none" stroke-linejoin="round"/>
<path d="M 1098.9 1537.6 L 1122.7 1537.6 L 1122.7 1591.0 L 1098.9 1591.0 Z" fill="#1f1f1f" stroke="#1f1f1f" stroke-width="1.2"/>
<path d="M 1100.1 1540.5 L 1121.5 1538.9 M 1100.1 1542.7 L 1121.5 1541.1 M 1100.1 1544.9 L 1121.5 1543.3 M 1100.1 1547.1 L 1121.5 1545.5 M 1100.1 1549.3 L 1121.5 1547.7 M 1100.1 1551.6 L 1121.5 1549.9 M 1100.1 1553.8 L 1121.5 1552.2 M 1100.1 1556.0 L 1121.5 1554.4 M 1100.1 1558.2 L 1121.5 1556.6 M 1100.1 1560.4 L 1121.5 1558.8 M 1100.1 1562.6 L 1121.5 1561.0 M 1100.1 1564.8 L 1121.5 1563.2 M 1100.1 1567.1 L 1121.5 1565.5 M 1100.1 1569.3 L 1121.5 1567.7 M 1100.1 1571.5 L 1121.5 1569.9 M 1100.1 1573.7 L 1121.5 1572.1 M 1100.1 1575.9 L 1121.5 1574.3 M 1100.1 1578.1 L 1121.5 1576.5 M 1100.1 1580.4 L 1121.5 1578.8 M 1100.1 1582.6 L 1121.5 1581.0 M 1100.1 1584.8 L 1121.5 1583.2 M 1100.1 1587.0 L 1121.5 1585.4 M 1100.1 1589.2 L 1121.5 1587.6 M 1100.1 1591.4 L 1121.5 1589.8" stroke="#4a4a4a" stroke-width="0.5"/>
<ellipse cx="1111.0" cy="1589.0" rx="19.3" ry="8.1" stroke-width="1.68"/>
<path d="M 1091.7 1589.0 L 1091.3 1599.1 M 1130.4 1589.0 L 1130.8 1599.1" stroke-width="1.68"/>
<path d="M1130.8 1599.1 A19.7 8.5 0 0 1 1091.3 1599.1" stroke-width="1.68"/>
<ellipse cx="1111.0" cy="1604.1" rx="23.8" ry="9.3" stroke-width="1.68"/>
<path d="M1134.8 1606.2 A23.8 9.3 0 0 1 1087.2 1606.2" stroke-width="1.44"/>
<path d="M 1098.9 1583.0 L 1122.7 1583.0 L 1122.7 1589.0 L 1098.9 1589.0 Z" fill="#1f1f1f" stroke="#1f1f1f" stroke-width="1.2"/>
<path d="M 1100.1 1585.8 L 1121.5 1584.2 M 1100.1 1588.0 L 1121.5 1586.4" stroke="#4a4a4a" stroke-width="0.5"/>
<path d="M 1087.6 1603.1 Q 1067.1 1609.2 1049.0 1613.6 Q 1042.9 1617.2 1043.3 1627.3 M 1134.4 1603.1 Q 1154.9 1609.2 1173.1 1613.6 Q 1179.1 1617.2 1178.7 1627.3 M 1088.2 1609.2 Q 1073.1 1614.2 1065.1 1623.3 M 1133.8 1609.2 Q 1148.9 1614.2 1157.0 1623.3 M 1093.3 1611.2 L 1093.3 1637.4 M 1128.5 1611.2 L 1128.5 1637.4 M 1099.3 1613.6 L 1099.3 1638.4 M 1122.5 1613.6 L 1122.5 1638.4 M 1093.3 1637.4 Q 1081.2 1638.4 1073.1 1648.5 M 1128.5 1637.4 Q 1140.6 1638.4 1148.7 1648.5 M 1097.3 1638.4 L 1123.5 1638.4 M 1071.1 1609.2 L 1061.0 1621.3 M 1077.2 1607.2 L 1070.1 1617.2 M 1150.9 1609.2 L 1161.0 1621.3 M 1144.9 1607.2 L 1151.9 1617.2 M 1065.1 1623.3 Q 1069.1 1627.3 1068.1 1631.3 M 1157.0 1623.3 Q 1152.9 1627.3 1153.9 1631.3" stroke-width="1.68"/>
<path d="M 1043.3 1627.3 L 1038.5 1775.0 M 1051.0 1614.2 Q 1061.0 1611.2 1065.5 1621.3 L 1061.0 1775.0 M 1052.0 1628.3 L 1046.5 1775.0 M 1043.3 1627.3 Q 1043.9 1619.3 1051.0 1614.2 M 1178.7 1627.3 L 1183.6 1775.0 M 1171.1 1614.2 Q 1161.0 1611.2 1156.6 1621.3 L 1161.0 1775.0 M 1170.1 1628.3 L 1175.5 1775.0 M 1178.7 1627.3 Q 1178.1 1619.3 1171.1 1614.2 M 1040.5 1679.7 Q 1037.9 1685.7 1039.3 1694.8 M 1181.5 1679.7 Q 1184.2 1685.7 1182.7 1694.8" stroke-width="1.68"/>
<path d="M 1070.3 1630.3 L 1049.2 1691.4 M 1090.1 1637.2 L 1068.9 1698.2" stroke-width="1.68"/>
<ellipse cx="1080.2" cy="1633.8" rx="10.5" ry="10.5" stroke-width="1.68"/>
<ellipse cx="1059.0" cy="1694.8" rx="10.5" ry="10.5" stroke-width="1.68"/>
<ellipse cx="1080.2" cy="1633.8" rx="5.8" ry="6.5" stroke-width="1.56"/>
<ellipse cx="1059.0" cy="1694.8" rx="5.8" ry="6.5" stroke-width="1.56"/>
<path d="M 1131.8 1637.2 L 1152.9 1698.2 M 1151.5 1630.3 L 1172.7 1691.4" stroke-width="1.68"/>
<ellipse cx="1141.6" cy="1633.8" rx="10.5" ry="10.5" stroke-width="1.68"/>
<ellipse cx="1162.8" cy="1694.8" rx="10.5" ry="10.5" stroke-width="1.68"/>
<ellipse cx="1141.6" cy="1633.8" rx="5.8" ry="6.5" stroke-width="1.56"/>
<ellipse cx="1162.8" cy="1694.8" rx="5.8" ry="6.5" stroke-width="1.56"/>
<path d="M 1068.1 1631.3 L 1052.0 1673.7 M 1153.9 1631.3 L 1170.1 1673.7 M 1054.0 1668.6 Q 1059.0 1666.6 1061.0 1671.6 M 1168.0 1668.6 Q 1163.0 1666.6 1161.0 1671.6" stroke-width="1.44"/>
<path d="M 1098.9 1638.4 L 1122.7 1638.4 L 1122.7 1716.0 L 1098.9 1716.0 Z" fill="#1f1f1f" stroke="#1f1f1f" stroke-width="1.2"/>
<path d="M 1100.1 1641.2 L 1121.5 1639.6 M 1100.1 1643.4 L 1121.5 1641.8 M 1100.1 1645.6 L 1121.5 1644.0 M 1100.1 1647.9 L 1121.5 1646.3 M 1100.1 1650.1 L 1121.5 1648.5 M 1100.1 1652.3 L 1121.5 1650.7 M 1100.1 1654.5 L 1121.5 1652.9 M 1100.1 1656.7 L 1121.5 1655.1 M 1100.1 1658.9 L 1121.5 1657.3 M 1100.1 1661.2 L 1121.5 1659.6 M 1100.1 1663.4 L 1121.5 1661.8 M 1100.1 1665.6 L 1121.5 1664.0 M 1100.1 1667.8 L 1121.5 1666.2 M 1100.1 1670.0 L 1121.5 1668.4 M 1100.1 1672.2 L 1121.5 1670.6 M 1100.1 1674.5 L 1121.5 1672.8 M 1100.1 1676.7 L 1121.5 1675.1 M 1100.1 1678.9 L 1121.5 1677.3 M 1100.1 1681.1 L 1121.5 1679.5 M 1100.1 1683.3 L 1121.5 1681.7 M 1100.1 1685.5 L 1121.5 1683.9 M 1100.1 1687.8 L 1121.5 1686.1 M 1100.1 1690.0 L 1121.5 1688.4 M 1100.1 1692.2 L 1121.5 1690.6 M 1100.1 1694.4 L 1121.5 1692.8 M 1100.1 1696.6 L 1121.5 1695.0 M 1100.1 1698.8 L 1121.5 1697.2 M 1100.1 1701.1 L 1121.5 1699.4 M 1100.1 1703.3 L 1121.5 1701.7 M 1100.1 1705.5 L 1121.5 1703.9 M 1100.1 1707.7 L 1121.5 1706.1 M 1100.1 1709.9 L 1121.5 1708.3 M 1100.1 1712.1 L 1121.5 1710.5 M 1100.1 1714.4 L 1121.5 1712.7 M 1100.1 1716.6 L 1121.5 1715.0" stroke="#4a4a4a" stroke-width="0.5"/>
<ellipse cx="1111.0" cy="1720.0" rx="22.6" ry="9.3" stroke-width="1.68"/>
<path d="M 1088.4 1720.0 L 1087.6 1732.1 M 1133.6 1720.0 L 1134.4 1732.1" stroke-width="1.68"/>
<path d="M1134.4 1732.1 A23.4 9.7 0 0 1 1087.6 1732.1" stroke-width="2.88"/>
<path d="M1136.0 1735.1 A25.0 10.5 0 0 1 1086.0 1735.1" stroke-width="1.56"/>
<path d="M 1098.9 1711.9 L 1122.7 1711.9 L 1122.7 1716.4 L 1098.9 1716.4 Z" fill="#1f1f1f" stroke="#1f1f1f" stroke-width="1.2"/>
<path d="M 1100.1 1714.8 L 1121.5 1713.1 M 1100.1 1717.0 L 1121.5 1715.4" stroke="#4a4a4a" stroke-width="0.5"/>
<ellipse cx="1109.8" cy="1731.7" rx="46.7" ry="23.4" stroke-width="1.8"/>
<ellipse cx="1109.8" cy="1732.1" rx="41.3" ry="19.7" stroke-width="1.56"/>
<ellipse cx="1109.8" cy="1732.5" rx="32.2" ry="14.5" stroke-width="1.56"/>
<path d="M1156.6 1736.1 A46.7 23.4 0 0 1 1063.1 1736.1" stroke-width="1.44"/>
<path d="M 1080.6 1740.3 L 1074.9 1742.0 M 1076.6 1735.3 L 1070.1 1735.7 M 1076.6 1729.7 L 1070.1 1729.3 M 1080.6 1724.6 L 1074.9 1723.0 M 1139.0 1724.6 L 1144.7 1723.0 M 1143.1 1729.7 L 1149.5 1729.3 M 1143.1 1735.3 L 1149.5 1735.7 M 1139.0 1740.3 L 1144.7 1742.0" stroke-width="1.44"/>
<path d="M 1063.1 1731.6 L 1062.7 1761.8 M 1156.8 1731.6 L 1157.2 1761.8" stroke-width="1.8"/>
<path d="M1157.2 1761.2 A47.4 16.9 0 0 1 1062.5 1761.2" stroke-width="1.8"/>
<path d="M1149.5 1773.0 A40.3 12.1 0 0 1 1070.1 1773.0" stroke-width="1.56"/>
<path d="M1147.5 1777.9 A38.3 11.1 0 0 1 1072.1 1777.9" stroke-width="1.56"/>
<path d="M 1038.5 1754.8 Q 1038.9 1770.9 1049.0 1779.0 Q 1061.0 1785.0 1070.1 1779.0 Q 1076.2 1774.9 1075.1 1768.9 M 1046.5 1758.8 Q 1049.0 1770.9 1061.0 1770.9 M 1061.0 1762.8 Q 1062.1 1768.9 1069.1 1770.9 M 1183.6 1754.8 Q 1183.1 1770.9 1173.1 1779.0 Q 1161.0 1785.0 1151.9 1779.0 Q 1145.9 1774.9 1146.9 1768.9 M 1175.5 1758.8 Q 1173.1 1770.9 1161.0 1770.9 M 1161.0 1762.8 Q 1160.0 1768.9 1152.9 1770.9 M 1042.9 1779.0 L 1029.8 1825.3 L 1029.8 1849.5 L 1073.1 1872.6 M 1043.3 1791.0 Q 1040.9 1831.3 1061.0 1866.6 M 1051.0 1781.0 Q 1059.0 1831.3 1097.3 1868.6 M 1059.0 1784.0 Q 1077.2 1831.3 1121.5 1871.6 M 1081.2 1789.0 Q 1101.3 1831.3 1142.6 1873.7 M 1093.3 1791.0 Q 1121.5 1831.3 1188.0 1853.5 M 1109.4 1791.0 Q 1141.6 1823.3 1190.0 1849.9 M 1135.6 1787.0 Q 1161.8 1811.2 1192.0 1820.3 M 1139.6 1785.0 L 1179.9 1803.1 M 1073.1 1872.6 L 1091.3 1869.6 Q 1101.3 1867.6 1113.4 1871.6 L 1142.6 1874.7 L 1148.7 1872.6 L 1146.7 1865.2 M 1146.7 1865.2 Q 1161.8 1859.6 1189.0 1855.5 L 1189.6 1851.5 M 1169.8 1779.0 Q 1177.9 1776.9 1180.3 1782.0 L 1181.9 1792.1 L 1168.8 1805.1 M 1168.8 1805.1 L 1192.0 1819.7 L 1193.0 1827.3 Q 1181.9 1837.4 1171.9 1843.4 M 1179.9 1803.1 L 1191.6 1819.3 M 1081.2 1789.0 Q 1101.3 1781.0 1137.6 1785.4 M 1141.6 1863.6 L 1147.7 1872.6 M 1074.7 1872.6 L 1074.7 1916.0 M 1147.7 1873.7 L 1147.7 1916.0 M 1075.1 1889.8 Q 1076.2 1896.8 1083.2 1898.8 M 1147.3 1889.8 Q 1146.3 1896.8 1139.2 1898.8" stroke-width="1.62"/>
<path d="M1144.3 1897.0 A34.3 8.5 0 0 1 1078.1 1897.0" stroke-width="1.68"/>
<path d="M1144.3 1899.0 A34.3 8.5 0 0 1 1078.1 1899.0" stroke-width="1.68"/>
</g>
<g id="d5">
<clipPath id="cwA"><rect x="1720" y="400" width="580" height="430"/></clipPath>
<g clip-path="url(#cwA)">
<path d="M 1869.3 426.7 Q 1869.3 421.9 1874.6 421.9 L 1925.2 421.9 Q 1930.6 421.9 1930.6 426.7 L 1930.6 462.6 L 1933.2 472.0 L 1866.1 472.0 L 1868.7 462.6 Z M 1868.7 441.3 L 1930.6 441.3 M 1868.7 450.6 L 1930.6 450.6 M 1868.7 462.6 L 1930.6 462.6 M 1893.2 421.3 Q 1898.6 416.5 1903.9 421.3 M 1810.6 476.0 L 1989.2 476.0 M 1810.6 476.0 L 1810.6 567.9 M 1989.2 476.0 L 1993.2 583.9 Q 1991.9 595.9 1981.2 596.7 L 1941.2 596.7 M 1781.8 519.9 Q 1781.8 516.5 1785.3 516.5 L 1808.0 516.5 M 1781.8 519.9 L 1781.8 535.9 M 1789.8 516.5 L 1789.8 535.9 M 1777.3 535.9 L 1810.6 535.9 M 1777.3 535.9 L 1777.3 567.9 M 1785.3 567.9 L 1785.3 543.9 Q 1786.6 537.3 1793.3 537.3 L 1810.6 537.3 M 1791.4 567.9 L 1791.4 549.3 L 1813.3 549.3 M 1870.6 519.9 Q 1870.6 515.9 1874.6 515.9 L 1917.2 515.9 Q 1920.4 515.9 1920.4 519.9 L 1920.4 535.9 M 1870.6 519.9 L 1870.6 535.9 M 1891.9 516.5 L 1891.9 535.9 M 1866.1 536.5 L 1925.2 536.5 L 1925.2 567.9 M 1866.1 536.5 L 1866.1 567.9 M 1866.1 539.9 L 1925.2 539.9 M 1833.3 567.9 L 1833.3 539.9 Q 1834.6 532.5 1842.6 532.5 L 1853.3 532.5 Q 1865.3 533.3 1866.1 543.9 M 1838.6 567.9 L 1838.6 542.6 Q 1839.9 536.5 1845.3 536.5 L 1853.3 536.5 Q 1861.3 537.3 1862.6 545.3 M 1930.6 567.9 L 1930.6 549.3 Q 1931.9 533.3 1946.5 532.5 L 1970.5 532.5 Q 1986.5 534.6 1986.5 549.3 L 1986.5 583.9 Q 1985.2 589.8 1979.9 590.6 L 1947.9 590.6 M 1937.2 567.9 L 1937.2 550.6 Q 1938.6 538.6 1949.2 538.1 L 1969.2 538.1 Q 1979.9 539.1 1979.9 550.6 L 1979.9 583.9 M 1949.2 567.9 L 1949.2 549.3 Q 1949.7 541.3 1957.2 539.9 M 1808.0 553.3 Q 1812.0 550.6 1817.3 554.6 L 1826.6 549.3 L 1831.9 554.6 L 1831.9 567.9 L 1826.6 573.2 L 1817.3 566.6 Q 1812.0 569.2 1808.0 565.2 Z M 1817.3 554.6 L 1817.3 566.6 M 1826.6 549.3 L 1826.6 573.2 M 1752.5 567.9 L 1947.9 567.9 M 1748.8 571.9 Q 1748.8 567.9 1752.5 567.9 M 1748.8 571.9 L 1748.8 641.2 Q 1749.9 644.7 1754.6 645.2 L 1762.6 646.5 Q 1769.3 649.2 1769.3 651.9 M 1765.3 567.9 L 1765.3 646.5 M 1772.0 567.9 L 1772.0 597.2 M 1780.0 567.9 L 1780.0 592.4 M 1804.8 567.9 L 1804.8 592.4 M 1810.6 567.9 L 1810.6 592.4 M 1819.9 567.9 L 1819.9 592.4 M 1780.0 592.4 L 1830.6 592.4 M 1777.3 596.7 L 1830.6 596.7 M 1830.6 570.6 L 1830.6 639.9 Q 1831.9 645.2 1838.6 645.7 L 1906.6 645.7 M 1911.9 569.2 L 1911.9 639.9 Q 1910.6 645.2 1906.6 645.7 M 1866.1 567.9 L 1866.1 645.2 M 1877.2 567.9 L 1877.2 645.2 M 1947.9 567.9 L 1947.9 583.9 Q 1946.5 594.6 1935.9 597.2 Q 1925.2 602.6 1923.9 613.2 L 1923.9 671.9 Q 1926.6 687.8 1935.9 693.2 M 1941.2 596.7 Q 1935.9 599.9 1934.6 610.6 L 1934.6 617.2 L 1927.9 617.2 M 1777.3 597.2 Q 1772.0 599.9 1772.0 610.6 L 1772.0 701.2 Q 1773.3 709.2 1781.3 710.5 M 1784.0 597.2 L 1784.0 691.8 M 1794.6 597.2 L 1794.6 693.2 M 1810.6 597.2 L 1810.6 677.2 M 1823.9 597.2 L 1823.9 669.2 Q 1826.6 677.2 1834.6 677.2 M 1830.6 597.2 Q 1825.3 602.6 1825.3 613.2 L 1825.3 663.9 Q 1827.9 674.5 1837.3 675.9 M 1834.6 645.7 L 1834.6 661.2 L 1845.3 661.2 M 1762.6 646.5 L 1762.6 718.5 Q 1764.0 723.0 1769.3 723.3 L 1933.2 723.3 Q 1937.2 722.5 1937.2 718.5 L 1937.2 693.2 M 1769.3 651.9 L 1769.3 717.2 M 1847.9 646.5 L 1847.9 717.2 Q 1850.6 722.5 1855.9 722.5 M 1847.9 646.5 Q 1849.3 651.9 1855.9 651.9 L 1882.6 651.9 Q 1895.9 650.5 1906.6 645.7 M 1764.0 677.2 L 1793.3 677.2 L 1793.3 686.5 L 1764.0 686.5 Z M 1808.0 677.2 L 1835.9 677.2 L 1835.9 686.5 L 1808.0 686.5 Z M 1777.3 693.2 L 1845.3 693.2 Q 1846.6 698.5 1839.9 702.5 M 1777.3 701.2 L 1837.3 701.2 M 1772.0 710.5 L 1845.3 710.5 Q 1849.3 714.5 1850.6 719.8 M 1777.3 693.2 L 1777.3 709.2 M 1789.8 715.8 L 1813.3 715.8 L 1813.3 730.5 L 1789.8 730.5 Z M 1801.3 715.8 L 1801.3 730.5 M 1794.6 730.5 L 1794.6 741.2 M 1809.3 730.5 L 1809.3 741.2 M 1781.8 723.3 L 1781.8 741.2 M 1829.3 723.3 L 1829.3 741.2 M 1870.6 723.3 L 1870.6 741.2 M 1891.9 723.3 L 1891.9 741.2 M 1917.2 723.3 L 1917.2 741.2 M 1937.2 686.5 L 1970.5 686.5 Q 1977.2 687.8 1977.2 694.5 L 1977.2 703.8 Q 1975.9 711.8 1967.9 712.4 L 1951.9 712.4 Q 1946.5 713.2 1945.2 718.5 M 1927.9 665.2 L 1978.5 665.2 M 1927.9 677.2 L 1978.5 677.2 M 1965.2 665.2 L 1965.2 677.2 M 1971.9 665.2 L 1971.9 686.5 M 1978.5 665.2 L 1978.5 686.5" stroke-width="1.55"/>
<path d="M 1927.9 641.7 L 2319.9 641.7 M 1927.9 643.1 L 2319.9 643.1 M 1927.9 660.9 L 2319.9 660.9 M 1927.9 641.7 L 1927.9 666.5 M 2002.5 663.3 L 2319.9 663.3 M 2002.5 663.3 L 2002.5 677.2 Q 2003.0 681.2 2007.8 681.2 L 2319.9 681.2 M 2003.6 679.3 L 2319.9 679.3 M 2071.8 683.8 Q 2085.1 693.2 2094.5 711.8 M 2269.0 683.8 Q 2255.7 693.2 2246.4 711.8 M 2089.1 703.8 L 2250.4 703.8 M 2067.8 682.5 L 2077.1 686.5 M 2046.5 746.5 L 2054.5 718.5 Q 2056.4 714.0 2062.5 714.0 L 2275.7 714.0 Q 2281.0 714.5 2282.9 718.5 L 2298.4 746.5 M 2049.2 746.5 L 2295.7 746.5 M 1757.8 743.8 Q 1757.8 741.2 1761.3 741.2 L 2039.8 739.8 Q 2046.5 743.8 2055.8 754.5 Q 2061.2 761.1 2069.1 761.1 L 2219.7 757.1 L 2310.4 757.1 M 1757.8 743.8 L 1757.8 779.8 Q 1758.6 783.8 1762.6 783.8 L 1917.2 783.8 M 1757.8 754.5 Q 1765.3 758.5 1777.3 759.8 L 1845.3 759.8 Q 1850.6 755.8 1855.9 742.5 M 1777.3 759.8 L 1777.3 783.8 M 1845.3 759.8 L 1845.3 783.8 M 1906.6 742.5 L 1906.6 778.5 M 1906.6 778.5 Q 1922.6 777.1 1935.9 786.5 M 1935.9 786.5 L 2319.9 786.5 M 1935.9 789.7 L 2319.9 789.7 M 2219.7 757.1 L 2219.7 786.5 M 2310.4 757.1 L 2310.4 786.5 M 2055.8 754.5 L 2066.5 755.0 L 2306.4 755.0 M 1792.0 783.8 L 1821.3 783.8 L 1826.6 789.1 L 1805.3 789.1 Z M 1879.9 783.8 L 1911.9 783.8 L 1917.2 787.8 L 1935.9 789.7 M 1805.3 789.1 L 1917.2 789.1 M 1968.4 790.5 L 1968.4 825.1 L 2319.9 825.1 M 1986.5 790.5 L 1986.5 825.1 M 1991.9 790.5 L 1991.9 825.1 M 2025.2 790.5 L 2025.2 825.1" stroke-width="1.55"/>
<path d="M 1818.6 472.5 L 1982.5 472.5" stroke-width="2.8"/>
<g transform="translate(2.3,2.3)"><path d="M 1869.3 426.7 Q 1869.3 421.9 1874.6 421.9 L 1925.2 421.9 Q 1930.6 421.9 1930.6 426.7 L 1930.6 462.6 L 1933.2 472.0 L 1866.1 472.0 L 1868.7 462.6 Z M 1868.7 441.3 L 1930.6 441.3 M 1868.7 450.6 L 1930.6 450.6 M 1868.7 462.6 L 1930.6 462.6 M 1893.2 421.3 Q 1898.6 416.5 1903.9 421.3 M 1810.6 476.0 L 1989.2 476.0 M 1810.6 476.0 L 1810.6 567.9 M 1989.2 476.0 L 1993.2 583.9 Q 1991.9 595.9 1981.2 596.7 L 1941.2 596.7 M 1781.8 519.9 Q 1781.8 516.5 1785.3 516.5 L 1808.0 516.5 M 1781.8 519.9 L 1781.8 535.9 M 1789.8 516.5 L 1789.8 535.9 M 1777.3 535.9 L 1810.6 535.9 M 1777.3 535.9 L 1777.3 567.9 M 1785.3 567.9 L 1785.3 543.9 Q 1786.6 537.3 1793.3 537.3 L 1810.6 537.3 M 1791.4 567.9 L 1791.4 549.3 L 1813.3 549.3 M 1870.6 519.9 Q 1870.6 515.9 1874.6 515.9 L 1917.2 515.9 Q 1920.4 515.9 1920.4 519.9 L 1920.4 535.9 M 1870.6 519.9 L 1870.6 535.9 M 1891.9 516.5 L 1891.9 535.9 M 1866.1 536.5 L 1925.2 536.5 L 1925.2 567.9 M 1866.1 536.5 L 1866.1 567.9 M 1866.1 539.9 L 1925.2 539.9 M 1833.3 567.9 L 1833.3 539.9 Q 1834.6 532.5 1842.6 532.5 L 1853.3 532.5 Q 1865.3 533.3 1866.1 543.9 M 1838.6 567.9 L 1838.6 542.6 Q 1839.9 536.5 1845.3 536.5 L 1853.3 536.5 Q 1861.3 537.3 1862.6 545.3 M 1930.6 567.9 L 1930.6 549.3 Q 1931.9 533.3 1946.5 532.5 L 1970.5 532.5 Q 1986.5 534.6 1986.5 549.3 L 1986.5 583.9 Q 1985.2 589.8 1979.9 590.6 L 1947.9 590.6 M 1937.2 567.9 L 1937.2 550.6 Q 1938.6 538.6 1949.2 538.1 L 1969.2 538.1 Q 1979.9 539.1 1979.9 550.6 L 1979.9 583.9 M 1949.2 567.9 L 1949.2 549.3 Q 1949.7 541.3 1957.2 539.9 M 1808.0 553.3 Q 1812.0 550.6 1817.3 554.6 L 1826.6 549.3 L 1831.9 554.6 L 1831.9 567.9 L 1826.6 573.2 L 1817.3 566.6 Q 1812.0 569.2 1808.0 565.2 Z M 1817.3 554.6 L 1817.3 566.6 M 1826.6 549.3 L 1826.6 573.2 M 1752.5 567.9 L 1947.9 567.9 M 1748.8 571.9 Q 1748.8 567.9 1752.5 567.9 M 1748.8 571.9 L 1748.8 641.2 Q 1749.9 644.7 1754.6 645.2 L 1762.6 646.5 Q 1769.3 649.2 1769.3 651.9 M 1765.3 567.9 L 1765.3 646.5 M 1772.0 567.9 L 1772.0 597.2 M 1780.0 567.9 L 1780.0 592.4 M 1804.8 567.9 L 1804.8 592.4 M 1810.6 567.9 L 1810.6 592.4 M 1819.9 567.9 L 1819.9 592.4 M 1780.0 592.4 L 1830.6 592.4 M 1777.3 596.7 L 1830.6 596.7 M 1830.6 570.6 L 1830.6 639.9 Q 1831.9 645.2 1838.6 645.7 L 1906.6 645.7 M 1911.9 569.2 L 1911.9 639.9 Q 1910.6 645.2 1906.6 645.7 M 1866.1 567.9 L 1866.1 645.2 M 1877.2 567.9 L 1877.2 645.2 M 1947.9 567.9 L 1947.9 583.9 Q 1946.5 594.6 1935.9 597.2 Q 1925.2 602.6 1923.9 613.2 L 1923.9 671.9 Q 1926.6 687.8 1935.9 693.2 M 1941.2 596.7 Q 1935.9 599.9 1934.6 610.6 L 1934.6 617.2 L 1927.9 617.2 M 1777.3 597.2 Q 1772.0 599.9 1772.0 610.6 L 1772.0 701.2 Q 1773.3 709.2 1781.3 710.5 M 1784.0 597.2 L 1784.0 691.8 M 1794.6 597.2 L 1794.6 693.2 M 1810.6 597.2 L 1810.6 677.2 M 1823.9 597.2 L 1823.9 669.2 Q 1826.6 677.2 1834.6 677.2 M 1830.6 597.2 Q 1825.3 602.6 1825.3 613.2 L 1825.3 663.9 Q 1827.9 674.5 1837.3 675.9 M 1834.6 645.7 L 1834.6 661.2 L 1845.3 661.2 M 1762.6 646.5 L 1762.6 718.5 Q 1764.0 723.0 1769.3 723.3 L 1933.2 723.3 Q 1937.2 722.5 1937.2 718.5 L 1937.2 693.2 M 1769.3 651.9 L 1769.3 717.2 M 1847.9 646.5 L 1847.9 717.2 Q 1850.6 722.5 1855.9 722.5 M 1847.9 646.5 Q 1849.3 651.9 1855.9 651.9 L 1882.6 651.9 Q 1895.9 650.5 1906.6 645.7 M 1764.0 677.2 L 1793.3 677.2 L 1793.3 686.5 L 1764.0 686.5 Z M 1808.0 677.2 L 1835.9 677.2 L 1835.9 686.5 L 1808.0 686.5 Z M 1777.3 693.2 L 1845.3 693.2 Q 1846.6 698.5 1839.9 702.5 M 1777.3 701.2 L 1837.3 701.2 M 1772.0 710.5 L 1845.3 710.5 Q 1849.3 714.5 1850.6 719.8 M 1777.3 693.2 L 1777.3 709.2 M 1789.8 715.8 L 1813.3 715.8 L 1813.3 730.5 L 1789.8 730.5 Z M 1801.3 715.8 L 1801.3 730.5 M 1794.6 730.5 L 1794.6 741.2 M 1809.3 730.5 L 1809.3 741.2 M 1781.8 723.3 L 1781.8 741.2 M 1829.3 723.3 L 1829.3 741.2 M 1870.6 723.3 L 1870.6 741.2 M 1891.9 723.3 L 1891.9 741.2 M 1917.2 723.3 L 1917.2 741.2 M 1937.2 686.5 L 1970.5 686.5 Q 1977.2 687.8 1977.2 694.5 L 1977.2 703.8 Q 1975.9 711.8 1967.9 712.4 L 1951.9 712.4 Q 1946.5 713.2 1945.2 718.5 M 1927.9 665.2 L 1978.5 665.2 M 1927.9 677.2 L 1978.5 677.2 M 1965.2 665.2 L 1965.2 677.2 M 1971.9 665.2 L 1971.9 686.5 M 1978.5 665.2 L 1978.5 686.5" stroke-width="1.05"/></g>
</g>
<path d="M 2000.9 641.7 L 2000.9 639.6 L 2031.8 639.6 L 2031.8 641.7 M 2004.4 639.6 L 2006.2 630.5 Q 2007.0 628.4 2009.7 628.4 L 2023.0 628.4 Q 2025.7 628.4 2026.5 630.5 L 2028.4 639.6 M 2011.6 628.4 L 2011.6 639.6 M 2021.2 628.4 L 2021.2 639.6" stroke-width="1.55"/>
<path d="M 2046.2 641.7 L 2046.2 639.6 L 2077.1 639.6 L 2077.1 641.7 M 2049.7 639.6 L 2051.6 630.5 Q 2052.4 628.4 2055.0 628.4 L 2068.3 628.4 Q 2071.0 628.4 2071.8 630.5 L 2073.7 639.6 M 2056.9 628.4 L 2056.9 639.6 M 2066.5 628.4 L 2066.5 639.6" stroke-width="1.55"/>
<path d="M 2264.2 641.7 L 2264.2 639.6 L 2295.2 639.6 L 2295.2 641.7 M 2267.7 639.6 L 2269.6 630.5 Q 2270.4 628.4 2273.0 628.4 L 2286.4 628.4 Q 2289.0 628.4 2289.8 630.5 L 2291.7 639.6 M 2274.9 628.4 L 2274.9 639.6 M 2284.5 628.4 L 2284.5 639.6" stroke-width="1.55"/>
<path d="M 2154.4 641.7 L 2154.4 639.6 L 2185.4 639.6 L 2185.4 641.7 M 2156.0 639.6 L 2157.9 630.5 Q 2158.7 628.4 2161.4 628.4 L 2178.4 628.4 Q 2181.1 628.4 2181.9 630.5 L 2183.8 639.6 M 2165.1 628.4 L 2165.1 639.6 M 2174.7 628.4 L 2174.7 639.6" stroke-width="1.55"/>
<path d="M 2139.8 631.3 L 2153.9 629.7 L 2153.9 641.2 L 2139.8 641.2 Z M 2185.1 629.7 L 2202.4 631.3 L 2202.4 641.2 L 2185.1 641.2 Z" fill="#2b2b2b" stroke-width="1.0"/>
<path d="M 2007.8 681.2 L 2007.8 687.3 Q 2007.8 689.2 2010.0 689.2 L 2021.7 689.2 Q 2023.8 689.2 2023.8 687.3 L 2023.8 681.2" stroke-width="1.55"/>
<path d="M 2051.8 681.2 L 2051.8 687.3 Q 2051.8 689.2 2054.0 689.2 L 2067.0 689.2 Q 2069.1 689.2 2069.1 687.3 L 2069.1 681.2" stroke-width="1.55"/>
<path d="M 2159.8 681.2 L 2159.8 687.3 Q 2159.8 689.2 2161.9 689.2 L 2175.0 689.2 Q 2177.1 689.2 2177.1 687.3 L 2177.1 681.2" stroke-width="1.55"/>
<path d="M 2270.4 681.2 L 2270.4 687.3 Q 2270.4 689.2 2272.5 689.2 L 2288.2 689.2 Q 2290.4 689.2 2290.4 687.3 L 2290.4 681.2" stroke-width="1.55"/>
<path d="M 2114.5 752.3 L 2114.5 743.3 Q 2114.5 739.8 2117.7 739.8 L 2143.8 739.8 Q 2147.0 739.8 2147.0 743.3 L 2147.0 752.3 M 2130.7 739.8 L 2130.7 752.3 M 2111.3 752.3 L 2149.6 752.3 L 2149.6 755.8 L 2111.3 755.8 Z" stroke-width="1.55"/>
<path d="M 2233.9 752.3 L 2233.9 743.3 Q 2233.9 739.8 2237.1 739.8 L 2263.7 739.8 Q 2266.9 739.8 2266.9 743.3 L 2266.9 752.3 M 2250.4 739.8 L 2250.4 752.3 M 2230.7 752.3 L 2269.6 752.3 L 2269.6 755.8 L 2230.7 755.8 Z" stroke-width="1.55"/>
<path d="M 2171.0 549.9 L 2171.0 1552.0" stroke-width="1.7" stroke-dasharray="15.6 7.85 8.03 7.85" stroke-dashoffset="9.1" stroke-linecap="butt"/>
<path d="M 1920.1 1231.1 L 2597.0 1231.1" stroke-width="1.7" stroke-dasharray="15.6 7.85 8.03 7.85" stroke-dashoffset="23.45" stroke-linecap="butt"/>
</g>
<g id="d5b">
<clipPath id="cwB"><rect x="2300" y="400" width="400" height="480"/></clipPath>
<g clip-path="url(#cwB)">
<path d="M 2299.9 642.6 L 2505.1 642.6 Q 2507.2 643.2 2507.2 645.3 L 2507.2 660.7 Q 2506.7 662.9 2504.6 662.9 L 2299.9 662.9 M 2299.9 644.8 L 2505.7 644.8 M 2299.9 660.7 L 2507.2 660.7 M 2299.9 664.5 L 2338.5 664.5 L 2338.5 681.3 L 2299.9 681.3 M 2299.9 666.6 L 2336.7 666.6 M 2299.9 757.2 L 2310.6 757.2 Q 2311.9 757.8 2311.9 759.9 L 2311.9 789.2 L 2299.9 789.2 M 2299.9 786.5 L 2311.9 786.5 M 2311.9 778.6 L 2370.5 778.6 L 2374.0 782.5 L 2374.0 825.2 L 2299.9 825.2 M 2299.9 826.5 L 2362.5 826.5 M 2313.2 770.6 L 2313.2 778.6 M 2362.5 826.5 L 2362.5 837.2 Q 2363.9 839.3 2369.2 839.3 L 2385.2 839.3 Q 2390.5 837.2 2390.5 830.5 L 2390.5 814.5 Q 2391.8 810.0 2395.8 810.0 L 2426.5 810.0 Q 2430.5 811.1 2430.5 815.9 L 2431.8 882.5 M 2393.2 829.2 L 2393.2 815.9 Q 2394.5 813.2 2397.2 813.2 L 2423.8 813.2 Q 2425.7 814.5 2425.7 817.2 L 2427.3 882.5 M 2362.5 827.9 Q 2366.5 834.5 2386.5 834.5 M 2321.2 826.5 L 2321.2 882.5 M 2335.9 826.5 L 2335.9 882.5 M 2362.5 839.3 L 2362.5 882.5 M 2365.2 839.9 L 2365.2 882.5" stroke-width="1.55"/>
</g>
<path d="M 2311.9 642.6 L 2311.9 640.5 L 2341.2 640.5 L 2341.2 642.6 M 2315.4 640.5 L 2317.2 631.4 Q 2318.0 629.3 2320.7 629.3 L 2332.4 629.3 Q 2335.1 629.3 2335.9 631.4 L 2337.7 640.5 M 2321.7 629.3 L 2321.7 640.5 M 2331.3 629.3 L 2331.3 640.5" stroke-width="1.55"/>
<path d="M 2318.6 681.3 L 2318.6 687.4 Q 2318.6 689.3 2320.7 689.3 L 2332.4 689.3 Q 2334.5 689.3 2334.5 687.4 L 2334.5 681.3" stroke-width="1.55"/>
<path d="M 2321.7 774.6 L 2321.7 765.2 Q 2322.3 762.6 2325.2 762.6 L 2349.2 762.6 Q 2351.9 763.1 2351.9 765.8 L 2351.9 774.6 M 2336.7 762.6 L 2336.7 774.6 M 2318.0 774.6 L 2355.3 774.6 L 2355.3 778.6 L 2318.0 778.6 Z" stroke-width="1.55"/>
<clipPath id="cwF"><rect x="2300" y="880" width="400" height="290"/></clipPath>
<g clip-path="url(#cwF)">
<clipPath id="c701"><path d="M 2327.0 913.3 L 2375.5 901.2 L 2439.3 916.0 L 2439.3 941.1 L 2393.5 941.1 L 2393.5 933.9 Q 2389.9 928.5 2384.5 929.4 L 2368.3 923.1 L 2350.3 921.7 L 2328.8 915.1 Z"/></clipPath>
<path clip-path="url(#c701)" d="M2296.1 921.2 L2383.2 834.1 M2311.0 936.1 L2398.1 849.0 M2325.8 950.9 L2412.9 863.8 M2340.7 965.8 L2427.8 878.7 M2355.5 980.6 L2442.6 893.5 M2370.4 995.5 L2457.5 908.4" stroke-width="1.35"/>
<clipPath id="c702"><path d="M 2393.5 978.5 L 2439.3 978.5 L 2439.3 987.9 L 2445.6 995.1 L 2445.6 1018.4 L 2439.3 1023.8 L 2422.2 1020.2 L 2421.3 1009.4 Q 2415.1 998.7 2400.7 995.1 Q 2393.5 987.9 2393.5 978.5 Z"/></clipPath>
<path clip-path="url(#c702)" d="M2366.3 999.5 L2417.9 947.9 M2381.1 1014.4 L2432.8 962.7 M2396.0 1029.2 L2447.6 977.6 M2410.8 1044.1 L2462.5 992.4" stroke-width="1.35"/>
<clipPath id="c703"><path d="M 2428.5 1106.5 Q 2436.6 1084.0 2479.8 1081.0 Q 2515.7 1081.7 2555.3 1097.2 L 2539.1 1097.5 L 2534.6 1104.7 L 2510.3 1104.7 Q 2499.6 1106.5 2494.2 1120.9 L 2472.6 1121.8 L 2469.0 1123.6 L 2425.8 1123.6 Z"/></clipPath>
<path clip-path="url(#c703)" d="M2391.5 1102.5 L2490.7 1003.3 M2409.2 1120.2 L2508.4 1020.9 M2426.9 1137.8 L2526.1 1038.6 M2444.5 1155.5 L2543.8 1056.3 M2462.2 1173.2 L2561.5 1074.0 M2479.9 1190.9 L2579.1 1091.7" stroke-width="1.35"/>
<path d="M 2321.2 880.0 L 2321.2 903.4 M 2336.0 880.0 L 2336.0 902.5 M 2362.6 880.0 L 2362.6 898.0 M 2364.7 886.3 L 2425.8 904.3 M 2362.6 898.0 L 2425.8 913.3 M 2425.7 880.0 L 2426.7 912.4 M 2430.5 880.0 L 2432.1 914.2 M 2375.5 901.2 L 2439.3 916.0 L 2439.3 941.1 M 2327.0 913.3 L 2328.8 915.1 L 2350.3 921.7 L 2368.3 923.1 L 2384.5 929.4 Q 2389.9 928.5 2393.5 933.9 L 2393.5 941.1 M 2323.4 907.0 L 2327.0 913.3 L 2327.0 943.8 M 2350.3 921.7 L 2349.4 941.1 M 2382.7 929.4 L 2382.7 941.1 M 2388.1 930.3 Q 2392.6 932.1 2393.5 939.3 M 2439.3 978.5 L 2439.3 987.9 L 2445.6 995.1 L 2445.6 1018.4 L 2439.3 1023.8 M 2393.5 978.5 Q 2393.5 987.9 2400.7 995.1 Q 2415.1 998.7 2421.3 1009.4 L 2422.2 1020.2 M 2439.3 989.7 L 2439.3 1009.4 L 2445.6 1009.4 M 2307.2 944.7 L 2336.9 944.7 M 2307.2 975.3 L 2336.9 975.3 M 2307.2 928.5 L 2307.2 1004.0 M 2300.0 921.3 Q 2307.2 922.2 2307.2 928.5 M 2301.8 922.2 L 2301.8 1003.1 M 2439.3 931.2 L 2452.8 931.2 L 2455.5 939.3 L 2455.5 980.7 L 2452.8 988.8 L 2439.3 988.8 M 2439.3 945.6 L 2455.5 945.6 M 2439.3 974.4 L 2455.5 974.4 M 2468.1 943.8 L 2477.1 943.8 Q 2478.0 944.7 2478.0 946.5 L 2478.0 973.5 Q 2477.6 975.3 2476.2 975.3 L 2468.1 975.3 M 2470.8 943.8 L 2470.8 975.3 M 2352.1 978.5 L 2352.1 1013.0 M 2354.8 978.5 L 2354.8 1013.9 M 2354.8 980.7 Q 2371.9 987.9 2384.5 1016.6 M 2357.5 986.1 Q 2375.5 996.9 2381.8 1017.5 M 2354.8 1004.0 L 2364.7 1014.8 M 2366.5 987.9 L 2368.3 1015.7 M 2382.7 1005.8 Q 2397.1 1011.2 2407.9 1019.3 M 2389.9 1020.2 L 2389.9 1032.8 Q 2391.7 1036.4 2397.1 1036.4 Q 2406.1 1038.2 2407.9 1049.0 L 2410.6 1058.0 Q 2415.1 1067.0 2425.8 1067.9 M 2389.9 1020.2 L 2443.8 1026.5 M 2422.2 1020.2 L 2442.0 1029.2 M 2443.8 1026.5 L 2443.8 1052.6 Q 2445.6 1065.2 2458.2 1067.9 L 2461.8 1068.4 M 2446.5 995.1 L 2446.5 1050.8 Q 2449.2 1065.2 2461.8 1068.4 M 2433.9 1026.5 L 2434.8 1052.6 Q 2438.4 1067.0 2449.2 1068.4 M 2327.0 1042.7 Q 2327.0 1032.8 2343.1 1032.4 L 2397.1 1032.4 Q 2407.9 1034.6 2409.7 1045.4 L 2411.5 1056.2 Q 2416.9 1067.0 2429.4 1068.4 M 2327.0 1042.7 Q 2328.8 1050.8 2336.0 1049.9 Q 2342.2 1048.1 2344.0 1041.8 L 2344.0 1032.8 M 2344.0 1038.2 L 2388.1 1038.2 Q 2400.7 1039.1 2403.4 1047.2 M 2369.2 1042.7 L 2404.3 1042.7 M 2327.0 1043.6 Q 2336.0 1045.4 2343.1 1041.8 M 2300.0 1042.7 L 2327.0 1042.7 M 2300.0 1052.6 L 2366.5 1052.6 M 2300.0 1055.3 L 2365.6 1055.3 M 2366.5 1052.6 L 2366.5 1073.8 M 2366.5 1073.8 L 2558.9 1073.8 M 2461.8 1068.4 L 2617.3 1068.4 Q 2621.8 1068.8 2621.8 1073.3 L 2621.8 1093.0 Q 2621.4 1097.5 2617.3 1097.5 L 2555.3 1097.5 M 2369.2 1042.7 L 2371.9 1058.0 Q 2375.5 1068.8 2384.5 1070.6 M 2377.3 1042.7 L 2379.1 1054.4 Q 2384.5 1067.0 2400.7 1069.7 M 2388.1 1043.6 Q 2393.5 1059.8 2415.1 1068.8 M 2397.1 1052.6 Q 2400.7 1061.6 2411.5 1067.9 M 2367.4 1068.8 Q 2380.9 1070.6 2397.1 1067.0 M 2370.1 1052.6 L 2407.9 1052.6 M 2371.9 1059.8 Q 2386.3 1058.0 2400.7 1052.6 M 2526.5 1068.4 L 2530.1 1064.3 L 2551.7 1064.3 L 2555.3 1068.4 M 2531.9 1065.2 L 2549.9 1065.2 M 2564.3 1068.4 L 2564.3 1097.5 M 2579.6 1068.4 L 2579.6 1097.5 M 2616.4 1069.7 L 2616.4 1096.6 M 2555.3 1097.5 L 2539.1 1097.5 L 2538.2 1100.2 L 2535.5 1100.8 L 2534.6 1104.7 L 2510.3 1104.7 Q 2499.6 1106.5 2496.0 1119.1 M 2539.1 1104.7 Q 2512.1 1105.6 2504.9 1111.9 L 2501.3 1120.9 M 2496.0 1119.1 L 2496.0 1131.7 M 2300.0 1097.5 L 2433.0 1097.5 M 2362.9 1097.5 L 2368.3 1100.2 L 2433.9 1100.2 M 2368.3 1102.9 L 2429.4 1102.9" stroke-width="1.55"/>
<path d="M 2336.9 941.1 L 2439.3 941.1 L 2439.3 978.5 L 2336.9 978.5 Z" fill="#1c1c1c" stroke="#1c1c1c" stroke-width="1.0"/>
<path d="M 2455.5 942.0 L 2468.1 942.0 L 2468.1 978.0 L 2455.5 978.0 Z" fill="#1c1c1c" stroke="#1c1c1c" stroke-width="1.0"/>
<path d="M 2300.0 907.0 Q 2336.0 901.9 2375.5 901.0" stroke-width="2.2"/>
<path d="M 2300.0 1004.0 Q 2353.9 1014.8 2389.9 1020.2" stroke-width="2.2"/>
<path d="M 2425.8 1113.7 Q 2432.1 1083.1 2479.8 1080.4 Q 2515.7 1081.3 2555.3 1097.0" stroke-width="2.2"/>
</g>
</g>
<g id="d5c">
<clipPath id="cwC"><rect x="1720" y="830" width="580" height="401"/></clipPath>
<g clip-path="url(#cwC)">
<path d="M 1975.3 826.6 L 1971.3 1046.5 Q 1968.6 1054.5 1959.3 1062.5 L 1955.3 1068.4 M 1999.3 826.6 L 1997.9 1068.4 M 2013.9 826.6 L 2009.9 1057.2 Q 2009.4 1066.5 2001.9 1068.4 M 2095.2 826.6 L 2091.2 1051.9 Q 2089.9 1065.2 2084.5 1068.4 M 2104.5 826.6 L 2101.9 1049.2 Q 2100.5 1059.9 2093.9 1065.2 M 2151.2 826.6 L 2149.8 1001.2 M 2165.8 826.6 L 2164.5 1001.2 M 2217.8 826.6 L 2217.3 920.7 M 2233.8 826.6 L 2233.3 917.0 M 2275.1 826.6 L 2276.4 907.9 M 2281.8 826.6 L 2283.1 905.3 M 1972.6 1053.2 L 2091.2 1053.2 M 2127.2 1022.5 L 2145.8 1022.5 Q 2151.2 1014.5 2153.8 1006.5 L 2167.2 1005.2 M 2119.2 1046.5 Q 2119.2 1027.9 2127.2 1022.5 M 2132.5 1023.9 L 2132.5 1038.5 L 2204.5 1038.5 M 2145.8 1022.5 Q 2143.2 1033.2 2156.5 1039.9 M 2169.8 1009.2 L 2156.5 1035.9 M 2119.2 1046.5 L 2116.5 1068.4 M 2131.2 1042.5 Q 2137.8 1039.9 2143.2 1043.9 Q 2132.5 1057.2 2132.5 1068.4 M 2160.5 1030.5 L 2188.5 1030.5 Q 2204.5 1031.9 2208.5 1046.5 M 2191.2 1034.5 Q 2196.5 1043.9 2207.1 1046.5 L 2208.5 1050.5 M 2131.2 1042.5 L 2207.1 1042.5 M 2160.5 1051.9 L 2160.5 1073.2 M 2140.5 1046.5 Q 2143.2 1059.9 2160.5 1062.5 M 2148.5 1043.9 L 2151.2 1067.8 M 2160.5 1051.9 L 2299.9 1051.9 M 2208.5 1043.9 L 2299.9 1043.9 M 1924.6 1073.4 L 2160.5 1073.4 M 2116.5 1068.4 L 2160.5 1068.4 M 2327.1 1033.2 Q 2332.4 1030.5 2343.1 1031.9 M 2093.9 1105.7 L 2193.8 1105.7 Q 2196.5 1101.2 2193.8 1097.7 L 2299.9 1097.7 M 2139.2 1106.5 L 2139.2 1209.9 M 2156.5 1106.5 L 2156.5 1209.9 M 2160.5 1106.5 L 2160.5 1209.9 M 2139.2 1134.5 L 2160.5 1134.5 M 2139.2 1174.5 L 2160.5 1174.5 M 2153.8 1134.5 L 2153.8 1174.5 M 2124.5 1153.1 Q 2135.2 1149.1 2139.2 1142.5 M 2125.9 1150.5 L 2129.9 1151.8" stroke-width="1.55"/>
<path d="M 2109.9 1139.0 Q 2120.5 1166.5 2125.1 1209.9" stroke-width="2.3"/>
<clipPath id="c831"><path d="M 1952.9 1096.8 L 1961.6 1085.9 Q 1986.4 1079.4 2010.0 1078.7 Q 2067.0 1079.7 2096.1 1112.9 L 2096.1 1123.1 L 2049.6 1123.1 L 2047.1 1121.6 L 2025.4 1121.6 L 2024.8 1105.5 L 1979.0 1102.4 L 1974.0 1105.5 L 1950.4 1105.5 L 1949.8 1098.7 Z"/></clipPath>
<path clip-path="url(#c831)" d="M1896.6 1085.5 L2007.5 974.5 M1914.3 1103.1 L2025.2 992.2 M1931.9 1120.8 L2042.9 1009.9 M1949.6 1138.5 L2060.5 1027.6 M1967.3 1156.2 L2078.2 1045.2 M1985.0 1173.9 L2095.9 1062.9 M2002.6 1191.5 L2113.6 1080.6 M2020.3 1209.2 L2131.3 1098.3" stroke-width="1.35"/>
<path d="M 1866.7 1072.0 Q 1866.7 1068.3 1870.5 1068.3 L 1930.6 1068.3 M 1866.7 1072.0 L 1866.7 1097.8 L 1908.3 1097.8 M 1871.1 1068.9 L 1871.1 1097.4 M 1872.9 1073.5 L 1872.9 1096.8 M 1866.7 1073.5 L 2110.0 1073.5 M 1908.3 1068.3 L 1908.3 1097.4 M 1923.8 1070.8 L 1923.8 1091.8 M 1930.6 1068.3 L 1935.6 1063.9 L 1952.9 1063.9 L 1959.1 1059.6 Q 1965.3 1048.4 1972.1 1045.3 M 1972.1 1010.0 L 1972.1 1049.7 Q 1971.5 1059.6 1966.6 1064.6 Q 1961.6 1068.3 1954.2 1069.5 M 1923.8 1069.3 L 2110.0 1068.5 M 1931.8 1068.3 Q 1936.8 1065.8 1952.9 1066.0 M 1959.1 1059.6 L 1967.8 1063.3 M 1952.9 1066.0 Q 1956.6 1070.8 1961.6 1069.5 M 1998.2 1010.0 L 1998.2 1068.3 M 2011.2 1010.0 L 2011.2 1057.1 Q 2010.6 1065.8 1998.8 1068.3 M 1972.1 1052.4 L 2091.8 1052.4 M 2101.7 1010.0 L 2101.7 1050.9 Q 2100.5 1064.6 2085.6 1068.3 M 2093.6 1010.0 L 2093.6 1049.7 Q 2096.7 1054.6 2098.0 1057.1 M 2091.8 1052.4 Q 2090.5 1064.6 2084.3 1068.3 M 1949.8 1098.7 L 1950.4 1105.5 L 1974.0 1105.5 L 1979.0 1102.4 L 2011.2 1104.2 Q 2019.9 1105.5 2021.7 1121.6 L 2022.3 1130.3 M 1979.0 1103.2 L 2010.0 1105.2 Q 2017.4 1106.7 2019.2 1121.6 L 2019.9 1129.7 M 1952.9 1096.8 L 1949.8 1098.7 M 1995.7 1080.1 Q 1996.3 1095.6 2000.7 1096.8 L 2006.2 1096.8 Q 2008.7 1090.6 2014.9 1091.2 Q 2022.3 1092.5 2023.6 1099.3 M 2006.9 1098.7 Q 2010.0 1095.6 2016.2 1096.2 Q 2021.1 1097.4 2022.3 1102.4 M 2007.5 1101.8 Q 2014.9 1099.3 2023.0 1104.2 M 2024.8 1081.9 L 2024.8 1145.2 M 2023.6 1105.5 L 2023.6 1143.9" stroke-width="1.55"/>
<path d="M 2096.1 1105.5 L 2096.1 1123.1" stroke-width="1.55"/>
<clipPath id="c832"><path d="M 2053.3 1177.4 L 2122.8 1177.4 L 2122.8 1146.4 L 2099.2 1151.4 L 2098.0 1160.0 L 2050.9 1160.7 L 2049.6 1173.7 Z"/></clipPath>
<path clip-path="url(#c832)" d="M2029.7 1164.5 L2088.8 1105.4 M2047.4 1182.1 L2106.4 1123.1 M2065.1 1199.8 L2124.1 1140.8 M2082.8 1217.5 L2141.8 1158.5" stroke-width="1.35"/>
<path d="M 2025.4 1121.6 L 2047.1 1121.6 L 2049.6 1123.1 L 2096.1 1123.1 M 2049.6 1123.1 L 2049.6 1137.7 M 2026.1 1123.5 L 2026.1 1134.0 L 2037.2 1145.2 L 2026.1 1145.2 M 2037.2 1145.2 L 2041.6 1145.2 Q 2043.4 1140.2 2049.6 1137.7 M 2041.6 1145.2 L 2041.6 1231.9 M 2044.0 1143.9 L 2044.0 1231.9 M 2047.1 1143.3 Q 2048.4 1139.0 2052.1 1138.3 M 2047.1 1143.3 L 2047.1 1231.9 M 2049.6 1145.2 L 2049.6 1231.9 M 2052.1 1145.2 L 2086.8 1129.7 L 2093.0 1144.5 L 2056.4 1155.1 Z M 2066.4 1136.5 L 2085.6 1157.6 M 2088.1 1132.1 L 2096.7 1130.9 L 2097.4 1140.2 L 2099.2 1141.4 L 2099.2 1158.8 L 2096.1 1160.7 L 2051.5 1160.7 L 2050.9 1150.1 M 2052.1 1145.8 L 2054.0 1152.6 M 2091.8 1132.1 L 2093.0 1140.2 M 2053.3 1177.4 L 2122.8 1177.4 M 2049.6 1173.7 L 2053.3 1177.4 M 2099.2 1151.4 L 2122.8 1147.0 M 2053.3 1177.4 L 2053.3 1231.9 M 2010.0 1130.0 L 2022.3 1130.0 M 2008.7 1131.5 L 2008.7 1145.2 L 2027.3 1145.2 M 2010.0 1132.1 L 2023.0 1132.1 M 2027.3 1145.2 L 2027.3 1149.9 L 2008.7 1149.9 L 2008.7 1167.5 L 2027.3 1167.5 L 2027.3 1176.2 L 2008.7 1176.2 L 2008.7 1200.9 L 2027.3 1200.9 L 2027.3 1209.6 L 2008.7 1209.6 L 2008.7 1231.9 M 2011.2 1146.4 L 2026.1 1146.4 M 2011.2 1151.4 L 2011.2 1158.8 L 2026.1 1158.8 M 2023.0 1150.1 L 2023.0 1158.2 M 2011.2 1170.0 L 2026.1 1170.0 M 2011.2 1177.4 L 2011.2 1186.1 L 2026.1 1186.1 M 2023.0 1176.8 L 2023.0 1185.4 M 2011.2 1203.4 L 2026.1 1203.4 M 2011.2 1210.9 L 2011.2 1220.8 L 2026.1 1220.8" stroke-width="1.55"/>
<path d="M 1908.3 1097.4 Q 1961.6 1079.4 2010.0 1078.4 Q 2067.0 1079.4 2096.7 1112.9 Q 2105.4 1124.1 2110.0 1139.0" stroke-width="2.3"/>
<path d="M 2186.0 936.6 Q 2201.9 953.7 2213.7 977.2 M 2196.6 930.1 Q 2219.6 947.8 2238.4 969.0 L 2241.9 965.5 M 2201.9 927.8 L 2236.1 957.2 M 2219.6 921.3 Q 2227.8 936.0 2230.2 945.4 M 2232.5 919.5 L 2254.9 925.4 M 2225.5 940.1 L 2229.6 943.7 M 2302.0 920.7 L 2302.0 1003.1 M 2306.7 924.2 L 2306.7 1004.3 M 2283.2 912.4 L 2302.0 920.7 Q 2306.7 921.9 2306.7 926.6 M 2153.0 1002.6 Q 2160.7 1000.8 2167.7 1003.1 L 2171.3 1001.4 L 2216.6 982.5 M 2171.3 1012.0 L 2221.9 994.3 M 2216.6 981.9 Q 2218.4 994.9 2231.3 1002.0 Q 2249.0 1009.0 2266.7 999.6 Q 2271.4 997.3 2273.7 993.7 M 2232.5 985.5 Q 2240.8 994.9 2254.9 994.3 M 2153.0 1002.6 L 2145.4 1020.0 M 2170.1 1012.0 L 2165.4 1020.0 M 2167.7 1003.1 Q 2168.9 1009.0 2171.3 1012.0 M 2153.0 1002.6 Q 2158.3 1010.2 2170.1 1012.0 M 2306.7 943.7 L 2310.0 943.7 M 2306.7 975.5 L 2310.0 975.5" stroke-width="1.55"/>
<path d="M 2310.0 905.4 Q 2254.9 911.3 2219.6 920.7 Q 2179.5 932.5 2178.3 947.8 Q 2179.5 961.9 2207.8 974.9 Q 2254.9 994.9 2310.0 1006.1" stroke-width="2.4"/>
<path d="M 2264.5 913.3 L 2265.4 995.1 M 2267.2 912.9 L 2268.1 996.0 M 2249.6 938.4 L 2239.7 985.7 M 2242.0 917.4 Q 2254.6 918.7 2258.6 924.9 Q 2260.4 930.0 2262.7 931.8 M 2245.6 916.9 Q 2256.4 918.7 2260.9 924.9 M 2251.9 916.0 L 2278.9 918.5 Q 2280.7 919.9 2278.0 921.0 L 2267.2 918.7 M 2267.2 918.7 L 2278.9 924.0 Q 2281.6 927.6 2278.9 931.8 Q 2277.1 933.0 2272.6 931.2 L 2262.7 927.1 M 2251.9 933.0 Q 2248.3 933.9 2247.8 937.5 M 2262.7 931.8 Q 2256.4 931.2 2251.9 933.0 M 2247.8 937.2 Q 2251.0 934.8 2256.4 936.1 Q 2269.0 941.1 2277.1 945.6 Q 2281.9 949.2 2279.8 952.3 Q 2277.1 954.8 2272.6 953.3 Q 2261.8 951.0 2252.8 953.7 Q 2248.3 956.4 2247.4 961.3 M 2250.7 938.4 Q 2267.2 942.9 2276.2 948.0 Q 2278.9 950.1 2278.0 951.6 M 2247.4 961.8 Q 2251.0 960.0 2256.4 961.8 Q 2269.0 968.1 2277.1 973.5 Q 2281.9 978.0 2279.8 981.0 Q 2278.0 984.3 2272.6 982.5 Q 2261.8 981.6 2252.8 985.2 Q 2247.4 987.9 2243.8 990.0 M 2250.3 963.4 Q 2267.2 969.9 2275.8 975.3 Q 2279.1 978.5 2278.0 980.7" stroke-width="1.55"/>
<path d="M 2247.4 937.5 L 2236.6 985.2" stroke-width="2.4"/>
</g>
</g>
<g id="d5c_m">
<clipPath id="cwDm"><rect x="1720" y="1231" width="580" height="350"/></clipPath>
<g clip-path="url(#cwDm)">
<clipPath id="c891"><path d="M 2053.3 1284.6 L 2122.8 1284.6 L 2122.8 1315.6 L 2099.2 1310.6 L 2098.0 1302.0 L 2050.9 1301.3 L 2049.6 1288.3 Z"/></clipPath>
<path clip-path="url(#c891)" d="M2013.7 1286.6 L2072.7 1227.6 M2031.3 1304.3 L2090.4 1245.2 M2049.0 1321.9 L2108.0 1262.9 M2066.7 1339.6 L2125.7 1280.6" stroke-width="1.35"/>
<path d="M 2025.4 1340.4 L 2047.1 1340.4 L 2049.6 1338.9 L 2096.1 1338.9 M 2049.6 1338.9 L 2049.6 1324.3 M 2026.1 1338.5 L 2026.1 1328.0 L 2037.2 1316.8 L 2026.1 1316.8 M 2037.2 1316.8 L 2041.6 1316.8 Q 2043.4 1321.8 2049.6 1324.3 M 2041.6 1316.8 L 2041.6 1230.1 M 2044.0 1318.1 L 2044.0 1230.1 M 2047.1 1318.7 Q 2048.4 1323.0 2052.1 1323.7 M 2047.1 1318.7 L 2047.1 1230.1 M 2049.6 1316.8 L 2049.6 1230.1 M 2052.1 1316.8 L 2086.8 1332.3 L 2093.0 1317.5 L 2056.4 1306.9 Z M 2066.4 1325.5 L 2085.6 1304.4 M 2088.1 1329.9 L 2096.7 1331.1 L 2097.4 1321.8 L 2099.2 1320.6 L 2099.2 1303.2 L 2096.1 1301.3 L 2051.5 1301.3 L 2050.9 1311.9 M 2052.1 1316.2 L 2054.0 1309.4 M 2091.8 1329.9 L 2093.0 1321.8 M 2053.3 1284.6 L 2122.8 1284.6 M 2049.6 1288.3 L 2053.3 1284.6 M 2099.2 1310.6 L 2122.8 1315.0 M 2053.3 1284.6 L 2053.3 1230.1 M 2010.0 1332.0 L 2022.3 1332.0 M 2008.7 1330.5 L 2008.7 1316.8 L 2027.3 1316.8 M 2010.0 1329.9 L 2023.0 1329.9 M 2027.3 1316.8 L 2027.3 1312.1 L 2008.7 1312.1 L 2008.7 1294.5 L 2027.3 1294.5 L 2027.3 1285.8 L 2008.7 1285.8 L 2008.7 1261.1 L 2027.3 1261.1 L 2027.3 1252.4 L 2008.7 1252.4 L 2008.7 1230.1 M 2011.2 1315.6 L 2026.1 1315.6 M 2011.2 1310.6 L 2011.2 1303.2 L 2026.1 1303.2 M 2023.0 1311.9 L 2023.0 1303.8 M 2011.2 1292.0 L 2026.1 1292.0 M 2011.2 1284.6 L 2011.2 1275.9 L 2026.1 1275.9 M 2023.0 1285.2 L 2023.0 1276.6 M 2011.2 1258.6 L 2026.1 1258.6 M 2011.2 1251.1 L 2011.2 1241.2 L 2026.1 1241.2" stroke-width="1.55"/>
</g>
</g>
<g id="d5d">
<clipPath id="cwD"><rect x="1720" y="1210" width="580" height="370"/></clipPath>
<g clip-path="url(#cwD)">
<path d="M 2114.3 1143.8 Q 2125.0 1190.7 2123.6 1232.5 Q 2122.3 1281.0 2114.3 1307.8" stroke-width="2.3"/>
<path d="M 2122.6 1207.4 Q 2124.3 1197.3 2137.7 1200.7 L 2151.1 1204.0 L 2151.1 1257.6 L 2137.7 1261.0 Q 2124.3 1264.3 2122.6 1254.3 M 2125.0 1207.4 L 2125.0 1254.3 M 2137.7 1105.3 L 2137.7 1374.8 M 2157.8 1105.3 L 2157.8 1378.1 M 2161.1 1103.6 L 2161.1 1384.2 M 2161.1 1384.2 L 2229.8 1384.2 M 2137.7 1135.4 L 2157.8 1135.4 M 2137.7 1163.9 L 2157.8 1163.9 M 2137.7 1173.9 L 2151.1 1173.9 L 2151.1 1204.0 M 2137.7 1257.6 L 2151.1 1257.6 L 2151.1 1294.4 L 2137.7 1294.4 M 2137.7 1297.8 L 2157.8 1297.8 M 2137.7 1324.6 L 2157.8 1324.6 M 2137.7 1327.9 L 2157.8 1327.9 M 2137.7 1374.8 L 2157.8 1374.8 M 2151.1 1167.2 L 2151.1 1173.9 M 2151.1 1207.4 L 2157.8 1207.4 M 2151.1 1254.3 L 2157.8 1254.3 M 2140.4 1287.7 L 2149.4 1287.7 M 2142.7 1289.4 L 2142.7 1294.4 M 2146.1 1289.4 L 2146.1 1294.4 M 2114.3 1307.8 Q 2121.0 1307.8 2131.0 1317.9 L 2137.7 1324.6 M 2121.0 1150.5 L 2134.3 1143.8 L 2137.7 1140.4 M 2122.6 1147.1 L 2131.0 1148.8 M 2047.3 1327.9 L 2047.3 1334.6 L 2018.8 1334.6 M 2005.5 1324.6 L 2005.5 1378.1 L 2002.1 1379.8 L 2002.1 1389.8 L 2023.9 1389.8 L 2023.9 1378.1 L 2018.8 1376.5 L 2018.8 1334.6 M 1997.1 1348.0 Q 1994.4 1358.0 1997.1 1367.4 L 2005.5 1367.4 M 1997.1 1348.0 L 2005.5 1348.0 M 2010.5 1379.8 L 2010.5 1389.8 M 2015.5 1379.8 L 2015.5 1389.8 M 2020.5 1369.8 L 2028.9 1369.8 Q 2030.6 1381.5 2040.6 1381.5 L 2060.7 1381.5 L 2064.0 1384.8 L 2092.5 1384.8 L 2094.2 1381.5 L 2094.2 1334.6 M 2047.3 1334.6 L 2094.2 1334.6 M 2028.9 1369.8 Q 2032.2 1374.8 2038.9 1374.8 L 2057.3 1374.8 M 1998.8 1311.2 L 1998.8 1324.6 L 2007.1 1324.6 M 1998.8 1311.2 L 2007.1 1304.5 M 2161.1 1384.2 L 2229.8 1384.2" stroke-width="1.55"/>
<clipPath id="c901"><path d="M 2020.5 1338.0 L 2094.2 1338.0 L 2094.2 1381.5 L 2064.0 1384.2 L 2057.3 1374.8 L 2038.9 1374.8 L 2028.9 1369.8 L 2020.5 1369.8 Z"/></clipPath>
<path clip-path="url(#c901)" d="M1983.3 1351.4 L2047.6 1287.0 M2001.0 1369.0 L2065.3 1304.7 M2018.6 1386.7 L2083.0 1322.4 M2036.3 1404.4 L2100.6 1340.1" stroke-width="1.35"/>
<path d="M 2041.6 1207.4 L 2041.6 1255.9 M 2044.0 1207.4 L 2044.0 1255.9 M 2047.1 1207.4 L 2047.1 1255.9 M 2049.6 1207.4 L 2049.6 1255.9 M 2052.3 1207.4 L 2052.3 1255.9" stroke-width="1.55"/>
<path d="M 2008.8 1209.1 L 2008.8 1217.4 L 2027.2 1217.4 L 2027.2 1220.8 M 2012.2 1220.8 L 2027.2 1220.8 M 2008.8 1240.9 L 2027.2 1240.9 L 2027.2 1244.9 M 2008.8 1244.9 L 2008.8 1254.3 M 2012.2 1220.8 L 2012.2 1209.1 M 2012.2 1240.9 L 2012.2 1254.3" stroke-width="1.55"/>
</g>
<clipPath id="cwT"><rect x="2225" y="1097.5" width="90" height="460"/></clipPath>
<g clip-path="url(#cwT)">
<path d="M 2253.5 1097.0 L 2253.5 1540.0 M 2264.8 1097.0 L 2264.8 1545.0 M 2266.6 1097.0 L 2266.6 1545.0" stroke-width="1.1"/>
<path d="M 2230.0 1084.7 Q 2230.6 1079.5 2235.8 1077.9 L 2244.3 1076.1 L 2246.4 1072.1 C 2248.5 1082.6 2263.2 1092.1 2273.8 1096.3 C 2280.1 1098.4 2282.2 1106.9 2278.5 1112.7 Q 2277.5 1115.3 2274.8 1116.3 L 2246.4 1125.8 C 2240.1 1114.2 2233.7 1093.2 2230.0 1084.7 Z" fill="#fff" stroke-width="1.3"/>
<path d="M 2231.4 1083.7 C 2235.0 1092.6 2241.3 1113.4 2247.9 1124.8" stroke-width="1.0"/>
<path d="M 2273.6 1097.6 C 2278.8 1099.5 2280.7 1106.9 2277.6 1111.9" stroke-width="1.0"/>
<path d="M 2230.0 1134.4 Q 2230.6 1129.2 2235.8 1127.6 L 2244.3 1125.9 L 2246.4 1121.9 C 2248.5 1132.3 2263.2 1141.7 2273.8 1145.9 C 2280.1 1148.0 2282.2 1156.3 2278.5 1162.1 Q 2277.5 1164.7 2274.8 1165.7 L 2246.4 1175.1 C 2240.1 1163.6 2233.7 1142.8 2230.0 1134.4 Z" fill="#fff" stroke-width="1.3"/>
<path d="M 2231.4 1133.4 C 2235.0 1142.2 2241.3 1162.8 2247.9 1174.1" stroke-width="1.0"/>
<path d="M 2273.6 1147.1 C 2278.8 1149.0 2280.7 1156.3 2277.6 1161.3" stroke-width="1.0"/>
<path d="M 2230.0 1184.8 Q 2230.6 1179.6 2235.8 1178.0 L 2244.3 1176.2 L 2246.4 1172.2 C 2248.5 1182.7 2263.2 1192.2 2273.8 1196.4 C 2280.1 1198.5 2282.2 1207.0 2278.5 1212.8 Q 2277.5 1215.4 2274.8 1216.4 L 2246.4 1225.9 C 2240.1 1214.3 2233.7 1193.3 2230.0 1184.8 Z" fill="#fff" stroke-width="1.3"/>
<path d="M 2231.4 1183.8 C 2235.0 1192.7 2241.3 1213.5 2247.9 1224.9" stroke-width="1.0"/>
<path d="M 2273.6 1197.7 C 2278.8 1199.6 2280.7 1207.0 2277.6 1212.0" stroke-width="1.0"/>
<path d="M 2230.0 1235.4 Q 2230.6 1230.2 2235.8 1228.6 L 2244.3 1226.8 L 2246.4 1222.8 C 2248.5 1233.3 2263.2 1242.8 2273.8 1247.0 C 2280.1 1249.1 2282.2 1257.6 2278.5 1263.4 Q 2277.5 1266.0 2274.8 1267.0 L 2246.4 1276.5 C 2240.1 1264.9 2233.7 1243.9 2230.0 1235.4 Z" fill="#fff" stroke-width="1.3"/>
<path d="M 2231.4 1234.4 C 2235.0 1243.3 2241.3 1264.1 2247.9 1275.5" stroke-width="1.0"/>
<path d="M 2273.6 1248.3 C 2278.8 1250.2 2280.7 1257.6 2277.6 1262.6" stroke-width="1.0"/>
<path d="M 2230.0 1287.0 Q 2230.6 1281.8 2235.8 1280.2 L 2244.3 1278.4 L 2246.4 1274.4 C 2248.5 1284.9 2263.2 1294.4 2273.8 1298.6 C 2280.1 1300.7 2282.2 1309.2 2278.5 1315.0 Q 2277.5 1317.6 2274.8 1318.6 L 2246.4 1328.1 C 2240.1 1316.5 2233.7 1295.5 2230.0 1287.0 Z" fill="#fff" stroke-width="1.3"/>
<path d="M 2231.4 1286.0 C 2235.0 1294.9 2241.3 1315.7 2247.9 1327.1" stroke-width="1.0"/>
<path d="M 2273.6 1299.9 C 2278.8 1301.8 2280.7 1309.2 2277.6 1314.2" stroke-width="1.0"/>
<path d="M 2230.0 1340.8 Q 2230.6 1335.6 2235.8 1334.0 L 2244.3 1332.2 L 2246.4 1328.2 C 2248.5 1338.7 2263.2 1348.2 2273.8 1352.4 C 2280.1 1354.5 2282.2 1363.0 2278.5 1368.8 Q 2277.5 1371.4 2274.8 1372.4 L 2246.4 1381.9 C 2240.1 1370.3 2233.7 1349.3 2230.0 1340.8 Z" fill="#fff" stroke-width="1.3"/>
<path d="M 2231.4 1339.8 C 2235.0 1348.7 2241.3 1369.5 2247.9 1380.9" stroke-width="1.0"/>
<path d="M 2273.6 1353.7 C 2278.8 1355.6 2280.7 1363.0 2277.6 1368.0" stroke-width="1.0"/>
<path d="M 2230.0 1389.3 Q 2230.6 1384.3 2235.8 1382.8 L 2244.3 1381.1 L 2246.4 1377.3 C 2248.5 1387.3 2263.2 1396.4 2273.8 1400.4 C 2280.1 1402.4 2282.2 1410.4 2278.5 1415.9 Q 2277.5 1418.4 2274.8 1419.4 L 2246.4 1428.5 C 2240.1 1417.4 2233.7 1397.4 2230.0 1389.3 Z" fill="#fff" stroke-width="1.3"/>
<path d="M 2231.4 1388.3 C 2235.0 1396.9 2241.3 1416.6 2247.9 1427.5" stroke-width="1.0"/>
<path d="M 2273.6 1401.6 C 2278.8 1403.4 2280.7 1410.4 2277.6 1415.2" stroke-width="1.0"/>
<path d="M 2230.0 1433.2 Q 2230.6 1428.8 2235.8 1427.5 L 2244.3 1426.0 L 2246.4 1422.7 C 2248.5 1431.5 2263.2 1439.4 2273.8 1442.9 C 2280.1 1444.6 2282.2 1451.6 2278.5 1456.5 Q 2277.5 1458.6 2274.8 1459.5 L 2246.4 1467.4 C 2240.1 1457.8 2233.7 1440.2 2230.0 1433.2 Z" fill="#fff" stroke-width="1.3"/>
<path d="M 2231.4 1432.3 C 2235.0 1439.8 2241.3 1457.1 2247.9 1466.5" stroke-width="1.0"/>
<path d="M 2273.6 1443.9 C 2278.8 1445.5 2280.7 1451.6 2277.6 1455.8" stroke-width="1.0"/>
<path d="M 2230.0 1472.0 Q 2230.6 1468.1 2235.8 1466.9 L 2244.3 1465.6 L 2246.4 1462.6 C 2248.5 1470.4 2263.2 1477.4 2273.8 1480.5 C 2280.1 1482.1 2282.2 1488.3 2278.5 1492.6 Q 2277.5 1494.6 2274.8 1495.4 L 2246.4 1502.4 C 2240.1 1493.8 2233.7 1478.2 2230.0 1472.0 Z" fill="#fff" stroke-width="1.3"/>
<path d="M 2231.4 1471.2 C 2235.0 1477.8 2241.3 1493.2 2247.9 1501.6" stroke-width="1.0"/>
<path d="M 2273.6 1481.5 C 2278.8 1482.9 2280.7 1488.3 2277.6 1492.1" stroke-width="1.0"/>
<path d="M 2230.0 1502.8 Q 2230.6 1499.9 2235.8 1499.1 L 2244.3 1498.1 L 2246.4 1495.9 C 2248.5 1501.6 2263.2 1506.7 2273.8 1509.0 C 2280.1 1510.2 2282.2 1514.7 2278.5 1517.8 Q 2277.5 1519.3 2274.8 1519.8 L 2246.4 1524.9 C 2240.1 1518.7 2233.7 1507.3 2230.0 1502.8 Z" fill="#fff" stroke-width="1.3"/>
<path d="M 2231.4 1502.2 C 2235.0 1507.0 2241.3 1518.2 2247.9 1524.4" stroke-width="1.0"/>
<path d="M 2273.6 1509.7 C 2278.8 1510.7 2280.7 1514.7 2277.6 1517.4" stroke-width="1.0"/>
<path d="M 2230.0 1523.5 Q 2230.6 1521.1 2235.8 1520.4 L 2244.3 1519.6 L 2246.4 1517.8 C 2248.5 1522.5 2263.2 1526.8 2273.8 1528.7 C 2280.1 1529.6 2282.2 1533.4 2278.5 1536.0 Q 2277.5 1537.2 2274.8 1537.7 L 2246.4 1542.0 C 2240.1 1536.7 2233.7 1527.3 2230.0 1523.5 Z" fill="#fff" stroke-width="1.3"/>
<path d="M 2231.4 1523.0 C 2235.0 1527.0 2241.3 1536.4 2247.9 1541.5" stroke-width="1.0"/>
<path d="M 2273.6 1529.2 C 2278.8 1530.1 2280.7 1533.4 2277.6 1535.7" stroke-width="1.0"/>
<path d="M 2230.0 1535.5 Q 2230.6 1533.1 2235.8 1532.4 L 2244.3 1531.6 L 2246.4 1529.8 C 2248.5 1534.5 2263.2 1538.8 2273.8 1540.7 C 2280.1 1541.6 2282.2 1545.4 2278.5 1548.0 Q 2277.5 1549.2 2274.8 1549.7 L 2246.4 1554.0 C 2240.1 1548.7 2233.7 1539.3 2230.0 1535.5 Z" fill="#fff" stroke-width="1.3"/>
<path d="M 2231.4 1535.0 C 2235.0 1539.0 2241.3 1548.4 2247.9 1553.5" stroke-width="1.0"/>
<path d="M 2273.6 1541.2 C 2278.8 1542.1 2280.7 1545.4 2277.6 1547.7" stroke-width="1.0"/>
<path d="M 2230.5 1367.2 L 2244.6 1508.6 Q 2247.6 1523.5 2250.6 1523.5 M 2229.8 1392.5 L 2243.2 1523.5 Q 2246.1 1538.3 2250.6 1541.3 M 2229.8 1419.3 L 2244.6 1538.3 Q 2247.6 1548.8 2253.6 1549.5 L 2267.0 1548.8 L 2280.4 1544.3 L 2304.2 1539.8 Q 2307.1 1538.3 2307.4 1535.4 M 2231.5 1434.2 L 2245.4 1536.8" stroke-width="1.2"/>
</g>
<clipPath id="cwE"><path d="M2300 1400 H2700 V1580 H2300 Z M2300 1170 H2330 V1400 H2300 Z M2530 1170 H2700 V1400 H2530 Z M2490 1170 H2530 V1250 H2490 Z"/></clipPath>
<g clip-path="url(#cwE)">
<path d="M 2301.4 1169.9 L 2301.4 1538.8 M 2307.1 1169.9 L 2307.5 1535.5 M 2307.8 1488.6 L 2352.3 1486.9 M 2352.3 1096.9 L 2352.3 1486.9 M 2356.7 1098.6 L 2356.7 1475.2 M 2364.0 1098.6 Q 2400.9 1123.7 2410.2 1227.5 Q 2404.2 1341.3 2357.3 1479.2 M 2369.1 1107.0 Q 2395.8 1133.7 2404.9 1227.5 Q 2400.2 1334.6 2360.7 1468.5 M 2357.3 1127.0 Q 2360.7 1118.7 2370.7 1120.3 Q 2390.8 1130.4 2394.2 1150.5 L 2400.9 1207.4 Q 2397.5 1214.1 2387.5 1214.1 L 2367.4 1212.4 Q 2357.3 1207.4 2357.3 1197.3 M 2362.4 1133.7 Q 2380.8 1130.4 2389.2 1153.8 L 2394.8 1204.0 L 2367.4 1205.7 Q 2362.4 1200.7 2362.4 1194.0 M 2357.3 1254.3 Q 2359.0 1242.5 2370.7 1240.9 L 2390.8 1239.2 Q 2400.9 1240.9 2400.9 1254.3 L 2397.5 1304.5 Q 2390.8 1327.9 2367.4 1336.3 Q 2357.3 1334.6 2357.3 1324.6 M 2362.4 1257.6 Q 2364.0 1247.6 2374.1 1245.9 L 2392.5 1244.9 L 2392.5 1304.5 Q 2387.5 1321.2 2367.4 1329.6 M 2357.3 1371.4 Q 2360.7 1364.7 2370.7 1361.4 Q 2390.8 1351.3 2400.9 1331.3 L 2400.9 1354.7 Q 2397.5 1408.3 2367.4 1435.0 Q 2357.3 1438.4 2357.3 1428.3 M 2362.4 1374.8 Q 2387.5 1361.4 2395.8 1341.3 M 2357.3 1163.9 L 2370.7 1165.5 L 2374.1 1172.2 L 2374.1 1187.3 L 2370.7 1194.0 L 2357.3 1195.7 M 2357.3 1271.0 L 2370.7 1272.7 L 2374.1 1279.4 L 2374.1 1291.1 L 2370.7 1297.8 L 2357.3 1299.5 M 2357.3 1368.1 L 2370.7 1369.8 L 2374.1 1376.5 L 2374.1 1381.5 M 2365.7 1172.2 L 2365.7 1189.0 M 2365.7 1279.4 L 2365.7 1292.8 M 2400.9 1140.4 L 2407.6 1147.1 Q 2414.3 1173.9 2410.2 1207.4 M 2400.9 1317.9 Q 2409.2 1314.5 2410.2 1274.3 M 2410.2 1282.7 L 2474.5 1282.7 M 2474.5 1178.9 L 2474.5 1282.7 M 2469.5 1178.9 L 2469.5 1282.7 M 2414.3 1178.9 L 2474.5 1178.9 M 2414.3 1178.9 Q 2410.2 1200.7 2410.2 1227.5 M 2410.2 1282.7 L 2410.2 1307.8 L 2421.0 1312.8 M 2421.0 1302.8 L 2421.0 1331.3 Q 2422.6 1338.0 2431.0 1338.0 L 2487.9 1338.0 M 2422.6 1302.8 L 2467.8 1302.8 L 2471.2 1306.2 L 2472.8 1317.9 M 2426.0 1309.5 L 2431.0 1331.3 L 2467.8 1319.5 L 2464.5 1304.5 M 2461.1 1304.5 L 2467.8 1319.5 M 2471.2 1307.8 L 2472.8 1317.9 L 2494.6 1317.9 L 2494.6 1311.2 M 2426.0 1338.0 L 2426.0 1381.5 Q 2427.7 1384.8 2431.0 1384.8 L 2457.8 1384.8 L 2464.5 1378.1 L 2482.9 1378.1 L 2484.6 1366.4 L 2503.0 1366.4 M 2487.9 1338.0 L 2491.3 1343.0 L 2503.0 1346.3 M 2494.6 1317.9 L 2503.0 1317.9 L 2503.0 1369.8 L 2499.6 1371.4 L 2499.6 1381.5 L 2521.4 1381.5 L 2521.4 1371.4 L 2516.4 1366.4 L 2526.4 1366.4 Q 2528.8 1358.0 2526.4 1348.0 L 2516.4 1346.3 L 2516.4 1317.9 L 2513.0 1317.9 M 2507.3 1371.4 L 2507.3 1381.5 M 2513.0 1371.4 L 2513.0 1381.5 M 2467.8 1378.1 L 2467.8 1384.8 M 2474.5 1378.1 Q 2477.9 1383.2 2482.9 1378.1 M 2492.9 1130.4 L 2492.9 1317.9 M 2497.3 1130.4 L 2497.3 1317.9 M 2513.0 1130.4 L 2513.0 1150.5 L 2498.0 1150.5 M 2498.0 1155.5 L 2513.0 1155.5 L 2513.0 1170.6 L 2498.0 1170.6 M 2498.0 1180.6 L 2513.0 1180.6 L 2513.0 1200.7 L 2498.0 1200.7 M 2498.0 1207.4 L 2513.0 1207.4 L 2513.0 1235.8 L 2498.0 1235.8 M 2498.0 1240.9 L 2513.0 1240.9 L 2513.0 1267.7 L 2498.0 1267.7 M 2498.0 1274.3 L 2513.0 1274.3 L 2513.0 1289.4 L 2498.0 1289.4 M 2498.0 1294.4 L 2513.0 1294.4 L 2513.0 1317.9 M 2503.0 1240.9 L 2503.0 1267.7 M 2503.0 1207.4 L 2503.0 1235.8 M 2503.0 1180.6 L 2503.0 1200.7 M 2477.9 1140.4 L 2477.9 1317.9 M 2474.5 1123.7 L 2477.9 1140.4 M 2474.5 1317.9 L 2477.9 1317.9 M 2400.9 1207.4 L 2400.9 1254.3 M 2387.5 1214.1 L 2387.5 1240.9" stroke-width="1.55"/>
<clipPath id="c951"><path d="M 2414.3 1178.9 L 2474.5 1178.9 L 2474.5 1160.5 L 2421.0 1160.5 L 2417.6 1170.6 Z"/></clipPath>
<path clip-path="url(#c951)" d="M2385.0 1157.6 L2432.3 1110.3 M2402.6 1175.3 L2450.0 1127.9 M2420.3 1193.0 L2467.7 1145.6 M2438.0 1210.6 L2485.3 1163.3" stroke-width="1.35"/>
<clipPath id="c952"><path d="M 2410.2 1282.7 L 2474.5 1282.7 L 2474.5 1302.8 L 2421.0 1302.8 L 2414.3 1297.8 Z"/></clipPath>
<path clip-path="url(#c952)" d="M2373.9 1274.8 L2424.4 1224.3 M2391.6 1292.4 L2442.0 1242.0 M2409.2 1310.1 L2459.7 1259.6 M2426.9 1327.8 L2477.4 1277.3" stroke-width="1.35"/>
<clipPath id="c953"><path d="M 2426.0 1338.0 L 2487.9 1338.0 L 2491.3 1343.0 L 2503.0 1346.3 L 2503.0 1366.4 L 2484.6 1366.4 L 2482.9 1378.1 L 2464.5 1378.1 L 2457.8 1384.8 L 2427.7 1384.8 Z"/></clipPath>
<path clip-path="url(#c953)" d="M2395.6 1359.1 L2462.2 1292.5 M2413.3 1376.8 L2479.9 1310.2 M2431.0 1394.4 L2497.5 1327.9 M2448.7 1412.1 L2515.2 1345.6" stroke-width="1.35"/>
</g>
<clipPath id="cwH"><rect x="2330" y="1097.5" width="160" height="152.5"/></clipPath>
<g clip-path="url(#cwH)">
<path d="M 2352.6 1096.9 L 2352.6 1250.0 M 2354.8 1096.9 L 2354.8 1250.0 M 2362.7 1097.7 L 2367.7 1097.7 Q 2372.7 1103.9 2381.6 1108.8 Q 2389.5 1115.8 2393.5 1129.7 L 2398.5 1142.6 M 2398.5 1142.6 Q 2399.4 1139.6 2400.9 1136.6 L 2400.6 1108.8 M 2395.5 1108.8 L 2396.0 1135.6 L 2398.5 1142.6 M 2367.7 1099.4 L 2433.2 1099.4 M 2374.6 1103.9 L 2429.2 1103.9 M 2376.6 1105.9 L 2427.2 1105.9 M 2355.8 1127.7 Q 2356.3 1119.8 2363.7 1117.8 Q 2371.7 1118.8 2381.6 1125.7 Q 2387.5 1131.7 2393.5 1145.6 Q 2399.4 1153.5 2400.4 1159.4 Q 2401.4 1189.2 2400.9 1213.0 Q 2399.4 1221.0 2395.5 1221.9 L 2389.5 1222.4 Q 2374.6 1220.0 2365.7 1218.0 Q 2358.8 1215.0 2356.3 1207.1 Z M 2358.3 1129.7 Q 2358.8 1124.2 2364.7 1123.7 Q 2372.7 1124.7 2379.6 1130.7 Q 2385.6 1136.6 2389.5 1146.5 Q 2395.5 1155.5 2396.0 1161.4 Q 2397.5 1189.2 2397.0 1212.0 Q 2396.0 1217.0 2393.5 1218.0 L 2387.5 1218.0 Q 2374.6 1216.0 2367.7 1214.0 Q 2361.7 1212.0 2359.3 1206.1 M 2366.7 1123.7 L 2367.2 1215.0 M 2363.7 1159.4 L 2395.5 1158.5 M 2375.6 1172.3 L 2398.5 1170.9 M 2358.8 1206.6 L 2395.5 1210.5 M 2364.7 1166.4 L 2372.2 1166.4 L 2375.6 1169.4 L 2375.6 1190.7 L 2372.2 1193.7 L 2364.7 1193.7 M 2372.2 1166.4 L 2372.2 1193.7 M 2358.8 1159.4 Q 2363.7 1165.4 2364.7 1166.4 M 2358.8 1201.1 Q 2363.7 1195.2 2364.7 1193.7 M 2356.8 1165.4 Q 2361.7 1179.3 2356.8 1193.2 M 2400.9 1108.8 Q 2408.4 1112.8 2413.3 1123.7 Q 2419.3 1141.6 2417.3 1159.4 M 2403.4 1108.8 Q 2409.4 1115.8 2414.3 1131.7 Q 2418.3 1145.6 2416.3 1165.4 M 2405.4 1131.7 Q 2404.4 1141.6 2409.4 1153.5 L 2413.3 1159.4 Q 2415.3 1155.5 2414.3 1149.5 Q 2409.4 1137.6 2408.4 1130.7 Q 2406.4 1129.7 2405.4 1131.7 M 2407.4 1129.7 Q 2412.3 1141.6 2416.3 1153.5 M 2409.4 1127.7 Q 2414.3 1139.6 2417.8 1151.5 M 2407.4 1169.4 L 2412.3 1169.4 Q 2415.3 1167.4 2416.3 1165.4 M 2405.4 1131.7 L 2406.4 1169.4 L 2407.4 1213.0 L 2409.4 1221.9 M 2405.4 1218.0 L 2409.4 1222.9 L 2411.3 1213.0 M 2388.5 1218.0 L 2388.5 1250.0 M 2423.3 1123.7 L 2468.9 1123.7 Q 2470.4 1124.2 2470.4 1125.7 L 2470.9 1139.6 M 2430.7 1123.7 L 2430.7 1133.7 M 2423.3 1123.7 L 2423.3 1141.6 M 2423.3 1133.7 L 2429.2 1133.7 L 2429.2 1141.6 L 2423.3 1141.6 M 2466.9 1144.1 L 2469.9 1144.1 L 2469.9 1158.5 M 2433.2 1129.7 L 2461.9 1159.4 M 2421.3 1149.5 L 2421.8 1157.5 Q 2422.8 1159.9 2425.2 1160.4 L 2472.9 1160.4 Q 2475.3 1161.4 2475.3 1163.9 L 2471.4 1168.4 L 2462.9 1178.8 L 2416.3 1179.3 M 2416.3 1179.3 L 2470.9 1179.3 L 2470.9 1250.0 M 2472.9 1178.3 L 2472.9 1250.0 M 2470.9 1123.7 L 2493.7 1123.7 L 2493.7 1121.7 L 2473.8 1121.7 M 2470.9 1124.2 L 2471.9 1137.6 L 2481.8 1146.5 L 2492.7 1146.5 M 2472.9 1144.1 Q 2475.8 1145.6 2476.3 1149.5 L 2476.3 1250.0 M 2478.8 1147.5 L 2478.8 1250.0 M 2355.8 1250.0 Q 2359.8 1241.8 2367.7 1240.8 L 2393.5 1238.8 Q 2399.4 1239.8 2400.9 1250.0 M 2362.7 1250.0 Q 2365.7 1246.7 2371.7 1246.2 L 2394.5 1244.3 L 2395.5 1250.0" stroke-width="1.55"/>
<path d="M 2431.2 1128.2 L 2468.9 1139.6 L 2468.4 1143.6 L 2466.9 1144.1 L 2466.4 1150.5 L 2464.9 1153.5 L 2462.9 1155.5 L 2428.2 1146.1 Z" stroke-width="1.9"/>
<path d="M 2434.7 1096.9 Q 2427.7 1106.9 2424.2 1122.7 Q 2420.8 1139.6 2418.3 1161.4 L 2410.4 1250.0" stroke-width="2.1"/>
<clipPath id="c991"><path d="M 2431.2 1124.2 L 2468.9 1124.2 L 2470.4 1125.7 L 2470.9 1139.6 L 2431.2 1128.2 Z"/></clipPath>
<path clip-path="url(#c991)" d="M2408.8 1122.6 L2441.8 1089.7 M2426.5 1140.3 L2459.5 1107.4" stroke-width="1.35"/>
<clipPath id="c992"><path d="M 2421.8 1158.5 L 2425.2 1160.6 L 2472.9 1160.6 L 2475.3 1163.9 L 2471.4 1168.4 L 2462.9 1178.8 L 2416.3 1179.1 L 2418.3 1161.4 Z"/></clipPath>
<path clip-path="url(#c992)" d="M2381.2 1151.2 L2428.2 1104.2 M2398.8 1168.8 L2445.8 1121.8 M2416.5 1186.5 L2463.5 1139.5 M2434.2 1204.2 L2481.2 1157.2" stroke-width="1.35"/>
</g>
<clipPath id="cwF2"><rect x="2300" y="880" width="400" height="290"/></clipPath>
<g clip-path="url(#cwF2)">
<path d="M 2301.4 1097.5 L 2301.4 1170.0 M 2307.0 1097.5 L 2307.0 1170.0" stroke-width="1.55"/>
</g>
<clipPath id="cwHR"><rect x="2490" y="1097.5" width="40" height="72.5"/></clipPath>
<g clip-path="url(#cwHR)">
<path d="M 2496.7 1130.7 L 2509.6 1130.7 Q 2512.0 1131.2 2512.0 1133.7 L 2512.0 1169.4 L 2492.7 1169.4 M 2498.7 1148.5 L 2512.0 1148.5 M 2498.7 1150.5 L 2498.7 1159.4 L 2492.7 1161.4 M 2494.7 1150.5 L 2498.7 1150.5 M 2496.7 1130.7 L 2496.7 1146.5 L 2492.7 1146.5 M 2498.7 1131.7 L 2498.7 1148.0 M 2492.7 1146.5 L 2492.7 1170.4 M 2494.7 1122.7 L 2494.7 1131.7 L 2496.7 1131.7 M 2481.8 1146.5 L 2492.7 1146.5" stroke-width="1.55"/>
</g>
<clipPath id="cwJ"><rect x="2330" y="1250" width="200" height="150"/></clipPath>
<g clip-path="url(#cwJ)">
<path d="M 2352.7 1220.0 L 2352.7 1400.0 M 2355.4 1220.0 L 2355.4 1400.0 M 2410.4 1220.0 L 2408.1 1240.1 L 2404.8 1331.6 L 2407.0 1333.8 L 2412.6 1318.2 M 2412.0 1231.2 L 2408.1 1331.6 Q 2403.7 1365.1 2392.5 1400.0 M 2408.1 1333.8 Q 2402.5 1370.7 2385.8 1400.0 M 2412.6 1318.2 L 2410.4 1331.6 Q 2405.9 1370.7 2397.0 1400.0 M 2356.8 1253.5 Q 2357.9 1242.3 2367.9 1240.6 L 2397.0 1238.4 Q 2401.4 1239.5 2401.4 1245.7 L 2400.3 1298.1 Q 2397.0 1320.4 2383.6 1333.8 Q 2374.6 1341.7 2364.6 1343.3 Q 2357.9 1342.8 2356.2 1336.1 Z M 2358.5 1254.6 Q 2359.6 1245.7 2367.9 1244.0 L 2394.7 1241.8 Q 2398.1 1242.3 2398.1 1246.8 L 2397.0 1297.0 Q 2393.6 1317.1 2382.5 1330.5 Q 2374.6 1338.3 2365.7 1340.0 Q 2360.1 1339.4 2358.5 1335.0 M 2366.8 1244.0 L 2367.4 1400.0 M 2357.3 1254.6 L 2401.4 1251.8 M 2365.7 1268.0 L 2372.4 1268.0 Q 2375.2 1269.1 2375.8 1271.9 L 2375.8 1292.0 Q 2374.6 1294.8 2372.4 1295.3 L 2365.7 1295.3 M 2372.4 1268.0 L 2372.4 1295.3 M 2375.8 1289.2 L 2400.3 1291.4 M 2357.3 1302.0 L 2395.8 1303.7 M 2388.6 1220.0 L 2389.2 1238.4 M 2357.3 1259.1 Q 2363.5 1264.6 2365.7 1268.0 M 2357.3 1301.5 Q 2363.5 1298.1 2365.7 1295.3 M 2356.8 1269.1 Q 2362.4 1281.4 2356.8 1293.7 M 2356.8 1374.0 Q 2359.0 1367.3 2366.8 1364.0 Q 2380.2 1357.3 2388.0 1347.2 Q 2397.0 1333.8 2398.1 1320.4 L 2400.3 1318.2 L 2400.3 1348.3 M 2356.8 1378.5 Q 2363.5 1368.4 2374.6 1364.0 M 2382.5 1353.9 L 2407.0 1352.8 M 2374.6 1359.5 L 2375.8 1380.7 L 2366.8 1384.1 M 2375.8 1368.4 L 2397.0 1369.6 M 2395.8 1323.8 L 2395.8 1400.0 M 2408.1 1282.5 L 2468.4 1282.5 Q 2474.0 1284.7 2475.1 1288.1 L 2475.1 1298.1 Q 2474.0 1300.4 2470.6 1300.9 L 2424.9 1300.9 Q 2422.1 1301.5 2421.5 1304.8 L 2420.4 1312.6 L 2408.1 1313.2 M 2471.2 1220.0 L 2471.2 1282.5 M 2475.1 1220.0 L 2475.1 1287.0 M 2479.6 1220.0 L 2479.6 1314.9 M 2430.4 1316.0 L 2442.7 1328.3 M 2452.8 1301.5 L 2467.3 1316.0 M 2421.5 1312.6 L 2421.5 1319.3 L 2428.2 1319.3 M 2423.2 1320.4 L 2423.2 1330.5 L 2430.4 1330.5 L 2430.4 1337.2 M 2428.2 1319.3 L 2428.2 1327.1 M 2425.4 1338.3 L 2470.6 1337.2 L 2475.1 1340.0 L 2486.2 1339.4 L 2490.7 1345.0 L 2495.2 1346.7 L 2503.5 1346.7 L 2503.5 1367.3 L 2463.9 1368.4 Q 2459.5 1369.6 2458.9 1374.0 L 2458.3 1382.9 Q 2457.2 1386.3 2452.8 1386.9 L 2430.4 1386.9 Q 2426.0 1386.3 2425.4 1381.8 Z M 2470.6 1318.2 L 2470.6 1337.2 M 2474.0 1320.4 Q 2476.2 1318.2 2477.3 1315.4 L 2495.2 1315.4 L 2495.2 1339.4 L 2490.7 1345.0 M 2475.1 1321.6 L 2494.1 1340.5 M 2503.5 1318.8 L 2517.5 1318.8 L 2517.5 1364.0 Q 2519.7 1368.4 2523.1 1367.3 Q 2526.4 1365.1 2525.9 1349.5 Q 2524.2 1346.1 2519.7 1346.1 L 2517.5 1347.2 M 2503.5 1318.8 L 2503.5 1346.7 M 2504.7 1319.3 L 2516.4 1327.1 M 2505.2 1353.9 L 2516.4 1365.1 M 2499.6 1368.4 L 2499.6 1380.7 L 2519.7 1381.3 L 2520.3 1368.4 M 2504.1 1381.3 L 2504.1 1374.0 L 2509.7 1370.7 L 2515.3 1374.0 L 2515.3 1381.3 M 2509.7 1370.7 L 2509.7 1381.3 M 2463.9 1368.4 L 2485.1 1368.4 L 2485.1 1376.2 Q 2482.9 1381.8 2478.4 1381.8 L 2475.1 1381.8 Q 2470.6 1378.5 2470.6 1369.6 M 2458.3 1382.9 L 2475.1 1381.8 M 2492.9 1223.3 L 2508.6 1223.3 Q 2512.5 1223.9 2512.5 1226.7 L 2512.5 1242.3 Q 2511.9 1244.0 2508.6 1244.6 L 2501.9 1244.6 L 2501.9 1261.3 L 2508.6 1261.3 Q 2512.5 1261.9 2512.5 1264.6 L 2512.5 1282.5 Q 2511.9 1285.8 2508.6 1285.8 L 2500.8 1285.8 L 2500.8 1293.7 L 2508.6 1293.7 Q 2512.5 1294.2 2512.5 1297.0 L 2512.5 1316.0 M 2495.2 1225.6 L 2495.2 1240.1 L 2499.6 1240.1 L 2499.6 1261.3 L 2492.9 1262.4 M 2492.9 1240.1 L 2495.2 1240.1 M 2492.9 1275.8 L 2495.2 1274.7 L 2508.6 1274.7 M 2495.2 1274.7 L 2495.2 1291.4 L 2500.8 1291.4 M 2492.9 1302.6 L 2495.2 1302.6 L 2508.6 1302.6 M 2495.2 1302.6 L 2495.2 1315.4 M 2492.9 1262.4 L 2492.9 1316.0 M 2497.4 1316.0 L 2497.4 1331.6 L 2503.5 1331.6 M 2499.6 1316.0 L 2499.6 1331.6" stroke-width="1.55"/>
<path d="M 2428.2 1314.9 L 2463.9 1306.5 L 2467.3 1317.1 L 2470.1 1318.2 L 2434.9 1331.6 Z" stroke-width="1.9"/>
<clipPath id="c1101"><path d="M 2408.1 1283.1 L 2468.4 1283.1 L 2475.1 1288.1 L 2475.1 1298.1 L 2470.6 1300.6 L 2424.9 1300.9 L 2421.5 1304.8 L 2420.6 1312.6 L 2408.1 1312.9 Z"/></clipPath>
<path clip-path="url(#c1101)" d="M2383.8 1294.9 L2438.5 1240.2 M2401.5 1312.6 L2456.2 1257.9 M2419.2 1330.2 L2473.8 1275.6 M2436.8 1347.9 L2491.5 1293.2" stroke-width="1.35"/>
<clipPath id="c1102"><path d="M 2425.4 1338.3 L 2470.6 1337.2 L 2475.1 1340.0 L 2486.2 1339.4 L 2490.7 1345.0 L 2495.2 1346.7 L 2503.5 1346.7 L 2503.5 1367.3 L 2463.9 1368.4 L 2458.9 1374.0 L 2458.3 1382.9 L 2452.8 1386.9 L 2430.4 1386.9 L 2425.4 1381.8 Z"/></clipPath>
<path clip-path="url(#c1102)" d="M2395.1 1361.0 L2463.4 1292.7 M2412.8 1378.7 L2481.1 1310.4 M2430.4 1396.3 L2498.7 1328.0 M2448.1 1414.0 L2516.4 1345.7" stroke-width="1.35"/>
</g>
</g>

</svg>
</body>
</html>
